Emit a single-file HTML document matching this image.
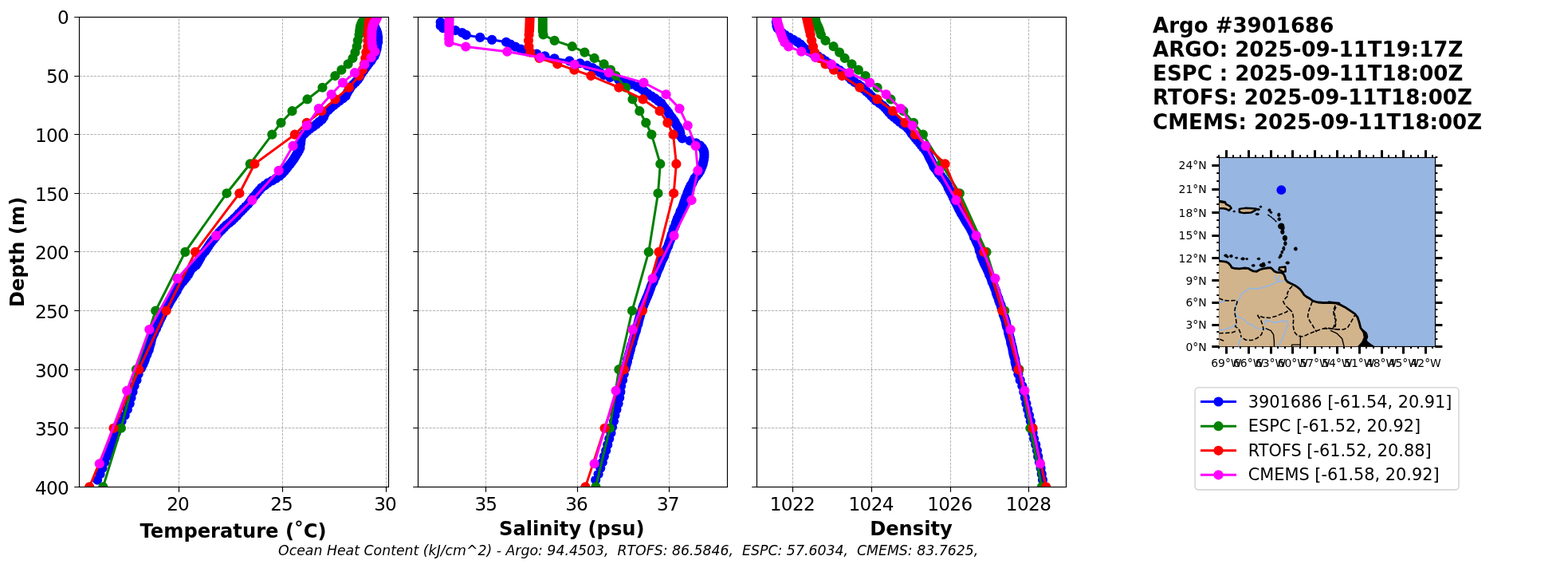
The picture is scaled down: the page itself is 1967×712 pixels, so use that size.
<!DOCTYPE html>
<html lang="en">
<head>
<meta charset="utf-8">
<title>Argo #3901686 profile comparison</title>
<style>
html,body{margin:0;padding:0;background:#ffffff;}
body{width:1967px;height:712px;overflow:hidden;}
svg{display:block;}
</style>
</head>
<body>
<svg width="1967" height="712" viewBox="0 0 1967 712" font-family='"DejaVu Sans", "Liberation Sans", sans-serif' role="img" aria-label="Argo float 3901686 profile comparison">
<rect width="1967" height="712" fill="#ffffff"/>
<defs>
<clipPath id="c0"><rect x="99.4" y="21.4" width="388.1" height="589"/></clipPath>
<clipPath id="c1"><rect x="524.7" y="21.4" width="388" height="589"/></clipPath>
<clipPath id="c2"><rect x="949.8" y="21.4" width="387.9" height="589"/></clipPath>
</defs>
<g>
<path d="M224.5 610.5V21.5M354.5 610.5V21.5M484.5 610.5V21.5M99.5 95.5H487.5M99.5 168.5H487.5M99.5 242.5H487.5M99.5 315.5H487.5M99.5 389.5H487.5M99.5 463.5H487.5M99.5 536.5H487.5" fill="none" stroke="#a7a7a7" stroke-width="0.87" stroke-dasharray="3.21 1.39"/>
<g clip-path="url(#c0)">
<polyline points="469.31,27.73 469.49,29.2 469.71,32.15 470.81,35.09 472.27,38.04 473.29,40.98 473.76,43.93 474.22,46.87 474.13,49.82 474.18,52.76 473.31,55.71 472.97,58.65 472.55,61.6 471.69,64.54 470.77,67.49 469.55,70.43 467.12,73.38 465.35,76.32 462.88,79.27 460.64,82.21 458.33,85.16 456.49,88.1 454.29,91.05 452.37,93.99 450.86,96.94 448.81,99.88 446.19,102.83 443.21,105.77 440.22,108.72 438.5,111.66 436.57,114.61 434.95,117.55 433.66,120.5 430.12,123.44 425.96,126.39 421.96,129.33 418.5,132.28 414.74,135.22 411.66,138.17 408.62,141.11 407.04,144.06 405.93,147 403.81,149.95 400.25,152.89 396.77,155.84 392.93,158.78 388.69,161.73 384.96,164.67 381.84,167.62 378.84,170.56 377.84,173.51 377.38,176.45 377.14,179.4 376.54,182.34 376.44,185.29 375.12,188.23 373.53,191.18 371.79,194.12 369.98,197.07 368.19,200.01 365.97,202.96 363.8,205.9 361.26,208.85 359.12,211.79 356.7,214.74 353.85,217.68 350.71,220.63 346.24,223.57 341.39,226.52 336,229.46 332.15,232.41 328,235.35 325.45,238.3 322.87,241.24 320.55,244.19 317.91,247.13 315.59,250.08 313.44,253.02 311.19,255.97 308.22,258.91 305.31,261.86 302.64,264.8 299.51,267.75 297.04,270.69 293.92,273.64 290.87,276.58 287.46,279.53 283.65,282.47 280.86,285.42 277.91,288.36 275,291.31 272.45,294.25 270.27,297.2 267.83,300.14 265.41,303.09 263.29,306.03 261.36,308.98 259.45,311.92 257.37,314.87 254.78,317.81 252.6,320.76 251.18,323.7 249.48,326.65 247.8,329.59 245.93,332.54 242.09,335.48 239.12,338.43 237.6,341.37 236.1,344.32 234.05,347.26 231.52,350.21 229.16,353.15 226.67,356.1 224.82,359.04 223,361.99 221.73,364.93 219.81,367.88 217.75,370.82 216.15,373.77 214.16,376.71 212.46,379.66 210.98,382.6 209.14,385.55 207.27,388.49 205.38,391.44 203.85,394.38 202.5,397.33 201.01,400.27 199.62,403.22 198.43,406.16 196.97,409.11 196.02,412.05 194.29,415 193.16,417.94 191.6,420.89 190.49,423.83 189.69,426.78 189.16,429.72 188.18,432.67 187.37,435.61 186.75,438.56 185.2,441.5 184.27,444.45 182.73,447.39 181.89,450.34 180.81,453.28 179.57,456.23 177.92,459.17 176.93,461.68 173.61,469.04 171.45,476.4 168.56,483.76 166.49,491.13 164.47,498.49 162.71,505.85 159.86,513.22 156.65,520.58 152.63,527.94 148.82,535.3 145.84,542.66 143.25,550.03 140.32,557.39 137.21,564.75 134.16,572.11 131.1,579.48 128.45,586.84 125.56,594.2 122.14,601.56" fill="none" stroke="#0000ff" stroke-width="3" stroke-linejoin="round" stroke-linecap="butt"/>
<path d="M463.21 27.73a6.1 6.1 0 1 0 12.2 0a6.1 6.1 0 1 0 -12.2 0zM463.39 29.2a6.1 6.1 0 1 0 12.2 0a6.1 6.1 0 1 0 -12.2 0zM463.61 32.15a6.1 6.1 0 1 0 12.2 0a6.1 6.1 0 1 0 -12.2 0zM464.71 35.09a6.1 6.1 0 1 0 12.2 0a6.1 6.1 0 1 0 -12.2 0zM466.17 38.04a6.1 6.1 0 1 0 12.2 0a6.1 6.1 0 1 0 -12.2 0zM467.19 40.98a6.1 6.1 0 1 0 12.2 0a6.1 6.1 0 1 0 -12.2 0zM467.66 43.93a6.1 6.1 0 1 0 12.2 0a6.1 6.1 0 1 0 -12.2 0zM468.12 46.87a6.1 6.1 0 1 0 12.2 0a6.1 6.1 0 1 0 -12.2 0zM468.03 49.82a6.1 6.1 0 1 0 12.2 0a6.1 6.1 0 1 0 -12.2 0zM468.08 52.76a6.1 6.1 0 1 0 12.2 0a6.1 6.1 0 1 0 -12.2 0zM467.21 55.71a6.1 6.1 0 1 0 12.2 0a6.1 6.1 0 1 0 -12.2 0zM466.87 58.65a6.1 6.1 0 1 0 12.2 0a6.1 6.1 0 1 0 -12.2 0zM466.45 61.6a6.1 6.1 0 1 0 12.2 0a6.1 6.1 0 1 0 -12.2 0zM465.59 64.54a6.1 6.1 0 1 0 12.2 0a6.1 6.1 0 1 0 -12.2 0zM464.67 67.49a6.1 6.1 0 1 0 12.2 0a6.1 6.1 0 1 0 -12.2 0zM463.45 70.43a6.1 6.1 0 1 0 12.2 0a6.1 6.1 0 1 0 -12.2 0zM461.02 73.38a6.1 6.1 0 1 0 12.2 0a6.1 6.1 0 1 0 -12.2 0zM459.25 76.32a6.1 6.1 0 1 0 12.2 0a6.1 6.1 0 1 0 -12.2 0zM456.78 79.27a6.1 6.1 0 1 0 12.2 0a6.1 6.1 0 1 0 -12.2 0zM454.54 82.21a6.1 6.1 0 1 0 12.2 0a6.1 6.1 0 1 0 -12.2 0zM452.23 85.16a6.1 6.1 0 1 0 12.2 0a6.1 6.1 0 1 0 -12.2 0zM450.39 88.1a6.1 6.1 0 1 0 12.2 0a6.1 6.1 0 1 0 -12.2 0zM448.19 91.05a6.1 6.1 0 1 0 12.2 0a6.1 6.1 0 1 0 -12.2 0zM446.27 93.99a6.1 6.1 0 1 0 12.2 0a6.1 6.1 0 1 0 -12.2 0zM444.76 96.94a6.1 6.1 0 1 0 12.2 0a6.1 6.1 0 1 0 -12.2 0zM442.71 99.88a6.1 6.1 0 1 0 12.2 0a6.1 6.1 0 1 0 -12.2 0zM440.09 102.83a6.1 6.1 0 1 0 12.2 0a6.1 6.1 0 1 0 -12.2 0zM437.11 105.77a6.1 6.1 0 1 0 12.2 0a6.1 6.1 0 1 0 -12.2 0zM434.12 108.72a6.1 6.1 0 1 0 12.2 0a6.1 6.1 0 1 0 -12.2 0zM432.4 111.66a6.1 6.1 0 1 0 12.2 0a6.1 6.1 0 1 0 -12.2 0zM430.47 114.61a6.1 6.1 0 1 0 12.2 0a6.1 6.1 0 1 0 -12.2 0zM428.85 117.55a6.1 6.1 0 1 0 12.2 0a6.1 6.1 0 1 0 -12.2 0zM427.56 120.5a6.1 6.1 0 1 0 12.2 0a6.1 6.1 0 1 0 -12.2 0zM424.02 123.44a6.1 6.1 0 1 0 12.2 0a6.1 6.1 0 1 0 -12.2 0zM419.86 126.39a6.1 6.1 0 1 0 12.2 0a6.1 6.1 0 1 0 -12.2 0zM415.86 129.33a6.1 6.1 0 1 0 12.2 0a6.1 6.1 0 1 0 -12.2 0zM412.4 132.28a6.1 6.1 0 1 0 12.2 0a6.1 6.1 0 1 0 -12.2 0zM408.64 135.22a6.1 6.1 0 1 0 12.2 0a6.1 6.1 0 1 0 -12.2 0zM405.56 138.17a6.1 6.1 0 1 0 12.2 0a6.1 6.1 0 1 0 -12.2 0zM402.52 141.11a6.1 6.1 0 1 0 12.2 0a6.1 6.1 0 1 0 -12.2 0zM400.94 144.06a6.1 6.1 0 1 0 12.2 0a6.1 6.1 0 1 0 -12.2 0zM399.83 147a6.1 6.1 0 1 0 12.2 0a6.1 6.1 0 1 0 -12.2 0zM397.71 149.95a6.1 6.1 0 1 0 12.2 0a6.1 6.1 0 1 0 -12.2 0zM394.15 152.89a6.1 6.1 0 1 0 12.2 0a6.1 6.1 0 1 0 -12.2 0zM390.67 155.84a6.1 6.1 0 1 0 12.2 0a6.1 6.1 0 1 0 -12.2 0zM386.83 158.78a6.1 6.1 0 1 0 12.2 0a6.1 6.1 0 1 0 -12.2 0zM382.59 161.73a6.1 6.1 0 1 0 12.2 0a6.1 6.1 0 1 0 -12.2 0zM378.86 164.67a6.1 6.1 0 1 0 12.2 0a6.1 6.1 0 1 0 -12.2 0zM375.74 167.62a6.1 6.1 0 1 0 12.2 0a6.1 6.1 0 1 0 -12.2 0zM372.74 170.56a6.1 6.1 0 1 0 12.2 0a6.1 6.1 0 1 0 -12.2 0zM371.74 173.51a6.1 6.1 0 1 0 12.2 0a6.1 6.1 0 1 0 -12.2 0zM371.28 176.45a6.1 6.1 0 1 0 12.2 0a6.1 6.1 0 1 0 -12.2 0zM371.04 179.4a6.1 6.1 0 1 0 12.2 0a6.1 6.1 0 1 0 -12.2 0zM370.44 182.34a6.1 6.1 0 1 0 12.2 0a6.1 6.1 0 1 0 -12.2 0zM370.34 185.29a6.1 6.1 0 1 0 12.2 0a6.1 6.1 0 1 0 -12.2 0zM369.02 188.23a6.1 6.1 0 1 0 12.2 0a6.1 6.1 0 1 0 -12.2 0zM367.43 191.18a6.1 6.1 0 1 0 12.2 0a6.1 6.1 0 1 0 -12.2 0zM365.69 194.12a6.1 6.1 0 1 0 12.2 0a6.1 6.1 0 1 0 -12.2 0zM363.88 197.07a6.1 6.1 0 1 0 12.2 0a6.1 6.1 0 1 0 -12.2 0zM362.09 200.01a6.1 6.1 0 1 0 12.2 0a6.1 6.1 0 1 0 -12.2 0zM359.87 202.96a6.1 6.1 0 1 0 12.2 0a6.1 6.1 0 1 0 -12.2 0zM357.7 205.9a6.1 6.1 0 1 0 12.2 0a6.1 6.1 0 1 0 -12.2 0zM355.16 208.85a6.1 6.1 0 1 0 12.2 0a6.1 6.1 0 1 0 -12.2 0zM353.02 211.79a6.1 6.1 0 1 0 12.2 0a6.1 6.1 0 1 0 -12.2 0zM350.6 214.74a6.1 6.1 0 1 0 12.2 0a6.1 6.1 0 1 0 -12.2 0zM347.75 217.68a6.1 6.1 0 1 0 12.2 0a6.1 6.1 0 1 0 -12.2 0zM344.61 220.63a6.1 6.1 0 1 0 12.2 0a6.1 6.1 0 1 0 -12.2 0zM340.14 223.57a6.1 6.1 0 1 0 12.2 0a6.1 6.1 0 1 0 -12.2 0zM335.29 226.52a6.1 6.1 0 1 0 12.2 0a6.1 6.1 0 1 0 -12.2 0zM329.9 229.46a6.1 6.1 0 1 0 12.2 0a6.1 6.1 0 1 0 -12.2 0zM326.05 232.41a6.1 6.1 0 1 0 12.2 0a6.1 6.1 0 1 0 -12.2 0zM321.9 235.35a6.1 6.1 0 1 0 12.2 0a6.1 6.1 0 1 0 -12.2 0zM319.35 238.3a6.1 6.1 0 1 0 12.2 0a6.1 6.1 0 1 0 -12.2 0zM316.77 241.24a6.1 6.1 0 1 0 12.2 0a6.1 6.1 0 1 0 -12.2 0zM314.45 244.19a6.1 6.1 0 1 0 12.2 0a6.1 6.1 0 1 0 -12.2 0zM311.81 247.13a6.1 6.1 0 1 0 12.2 0a6.1 6.1 0 1 0 -12.2 0zM309.49 250.08a6.1 6.1 0 1 0 12.2 0a6.1 6.1 0 1 0 -12.2 0zM307.34 253.02a6.1 6.1 0 1 0 12.2 0a6.1 6.1 0 1 0 -12.2 0zM305.09 255.97a6.1 6.1 0 1 0 12.2 0a6.1 6.1 0 1 0 -12.2 0zM302.12 258.91a6.1 6.1 0 1 0 12.2 0a6.1 6.1 0 1 0 -12.2 0zM299.21 261.86a6.1 6.1 0 1 0 12.2 0a6.1 6.1 0 1 0 -12.2 0zM296.54 264.8a6.1 6.1 0 1 0 12.2 0a6.1 6.1 0 1 0 -12.2 0zM293.41 267.75a6.1 6.1 0 1 0 12.2 0a6.1 6.1 0 1 0 -12.2 0zM290.94 270.69a6.1 6.1 0 1 0 12.2 0a6.1 6.1 0 1 0 -12.2 0zM287.82 273.64a6.1 6.1 0 1 0 12.2 0a6.1 6.1 0 1 0 -12.2 0zM284.77 276.58a6.1 6.1 0 1 0 12.2 0a6.1 6.1 0 1 0 -12.2 0zM281.36 279.53a6.1 6.1 0 1 0 12.2 0a6.1 6.1 0 1 0 -12.2 0zM277.55 282.47a6.1 6.1 0 1 0 12.2 0a6.1 6.1 0 1 0 -12.2 0zM274.76 285.42a6.1 6.1 0 1 0 12.2 0a6.1 6.1 0 1 0 -12.2 0zM271.81 288.36a6.1 6.1 0 1 0 12.2 0a6.1 6.1 0 1 0 -12.2 0zM268.9 291.31a6.1 6.1 0 1 0 12.2 0a6.1 6.1 0 1 0 -12.2 0zM266.35 294.25a6.1 6.1 0 1 0 12.2 0a6.1 6.1 0 1 0 -12.2 0zM264.17 297.2a6.1 6.1 0 1 0 12.2 0a6.1 6.1 0 1 0 -12.2 0zM261.73 300.14a6.1 6.1 0 1 0 12.2 0a6.1 6.1 0 1 0 -12.2 0zM259.31 303.09a6.1 6.1 0 1 0 12.2 0a6.1 6.1 0 1 0 -12.2 0zM257.19 306.03a6.1 6.1 0 1 0 12.2 0a6.1 6.1 0 1 0 -12.2 0zM255.26 308.98a6.1 6.1 0 1 0 12.2 0a6.1 6.1 0 1 0 -12.2 0zM253.35 311.92a6.1 6.1 0 1 0 12.2 0a6.1 6.1 0 1 0 -12.2 0zM251.27 314.87a6.1 6.1 0 1 0 12.2 0a6.1 6.1 0 1 0 -12.2 0zM248.68 317.81a6.1 6.1 0 1 0 12.2 0a6.1 6.1 0 1 0 -12.2 0zM246.5 320.76a6.1 6.1 0 1 0 12.2 0a6.1 6.1 0 1 0 -12.2 0zM245.08 323.7a6.1 6.1 0 1 0 12.2 0a6.1 6.1 0 1 0 -12.2 0zM243.38 326.65a6.1 6.1 0 1 0 12.2 0a6.1 6.1 0 1 0 -12.2 0zM241.7 329.59a6.1 6.1 0 1 0 12.2 0a6.1 6.1 0 1 0 -12.2 0zM239.83 332.54a6.1 6.1 0 1 0 12.2 0a6.1 6.1 0 1 0 -12.2 0zM235.99 335.48a6.1 6.1 0 1 0 12.2 0a6.1 6.1 0 1 0 -12.2 0zM233.02 338.43a6.1 6.1 0 1 0 12.2 0a6.1 6.1 0 1 0 -12.2 0zM231.5 341.37a6.1 6.1 0 1 0 12.2 0a6.1 6.1 0 1 0 -12.2 0zM230 344.32a6.1 6.1 0 1 0 12.2 0a6.1 6.1 0 1 0 -12.2 0zM227.95 347.26a6.1 6.1 0 1 0 12.2 0a6.1 6.1 0 1 0 -12.2 0zM225.42 350.21a6.1 6.1 0 1 0 12.2 0a6.1 6.1 0 1 0 -12.2 0zM223.06 353.15a6.1 6.1 0 1 0 12.2 0a6.1 6.1 0 1 0 -12.2 0zM220.57 356.1a6.1 6.1 0 1 0 12.2 0a6.1 6.1 0 1 0 -12.2 0zM218.72 359.04a6.1 6.1 0 1 0 12.2 0a6.1 6.1 0 1 0 -12.2 0zM216.9 361.99a6.1 6.1 0 1 0 12.2 0a6.1 6.1 0 1 0 -12.2 0zM215.63 364.93a6.1 6.1 0 1 0 12.2 0a6.1 6.1 0 1 0 -12.2 0zM213.71 367.88a6.1 6.1 0 1 0 12.2 0a6.1 6.1 0 1 0 -12.2 0zM211.65 370.82a6.1 6.1 0 1 0 12.2 0a6.1 6.1 0 1 0 -12.2 0zM210.05 373.77a6.1 6.1 0 1 0 12.2 0a6.1 6.1 0 1 0 -12.2 0zM208.06 376.71a6.1 6.1 0 1 0 12.2 0a6.1 6.1 0 1 0 -12.2 0zM206.36 379.66a6.1 6.1 0 1 0 12.2 0a6.1 6.1 0 1 0 -12.2 0zM204.88 382.6a6.1 6.1 0 1 0 12.2 0a6.1 6.1 0 1 0 -12.2 0zM203.04 385.55a6.1 6.1 0 1 0 12.2 0a6.1 6.1 0 1 0 -12.2 0zM201.17 388.49a6.1 6.1 0 1 0 12.2 0a6.1 6.1 0 1 0 -12.2 0zM199.28 391.44a6.1 6.1 0 1 0 12.2 0a6.1 6.1 0 1 0 -12.2 0zM197.75 394.38a6.1 6.1 0 1 0 12.2 0a6.1 6.1 0 1 0 -12.2 0zM196.4 397.33a6.1 6.1 0 1 0 12.2 0a6.1 6.1 0 1 0 -12.2 0zM194.91 400.27a6.1 6.1 0 1 0 12.2 0a6.1 6.1 0 1 0 -12.2 0zM193.52 403.22a6.1 6.1 0 1 0 12.2 0a6.1 6.1 0 1 0 -12.2 0zM192.33 406.16a6.1 6.1 0 1 0 12.2 0a6.1 6.1 0 1 0 -12.2 0zM190.87 409.11a6.1 6.1 0 1 0 12.2 0a6.1 6.1 0 1 0 -12.2 0zM189.92 412.05a6.1 6.1 0 1 0 12.2 0a6.1 6.1 0 1 0 -12.2 0zM188.19 415a6.1 6.1 0 1 0 12.2 0a6.1 6.1 0 1 0 -12.2 0zM187.06 417.94a6.1 6.1 0 1 0 12.2 0a6.1 6.1 0 1 0 -12.2 0zM185.5 420.89a6.1 6.1 0 1 0 12.2 0a6.1 6.1 0 1 0 -12.2 0zM184.39 423.83a6.1 6.1 0 1 0 12.2 0a6.1 6.1 0 1 0 -12.2 0zM183.59 426.78a6.1 6.1 0 1 0 12.2 0a6.1 6.1 0 1 0 -12.2 0zM183.06 429.72a6.1 6.1 0 1 0 12.2 0a6.1 6.1 0 1 0 -12.2 0zM182.08 432.67a6.1 6.1 0 1 0 12.2 0a6.1 6.1 0 1 0 -12.2 0zM181.27 435.61a6.1 6.1 0 1 0 12.2 0a6.1 6.1 0 1 0 -12.2 0zM180.65 438.56a6.1 6.1 0 1 0 12.2 0a6.1 6.1 0 1 0 -12.2 0zM179.1 441.5a6.1 6.1 0 1 0 12.2 0a6.1 6.1 0 1 0 -12.2 0zM178.17 444.45a6.1 6.1 0 1 0 12.2 0a6.1 6.1 0 1 0 -12.2 0zM176.63 447.39a6.1 6.1 0 1 0 12.2 0a6.1 6.1 0 1 0 -12.2 0zM175.79 450.34a6.1 6.1 0 1 0 12.2 0a6.1 6.1 0 1 0 -12.2 0zM174.71 453.28a6.1 6.1 0 1 0 12.2 0a6.1 6.1 0 1 0 -12.2 0zM173.47 456.23a6.1 6.1 0 1 0 12.2 0a6.1 6.1 0 1 0 -12.2 0zM171.82 459.17a6.1 6.1 0 1 0 12.2 0a6.1 6.1 0 1 0 -12.2 0zM170.83 461.68a6.1 6.1 0 1 0 12.2 0a6.1 6.1 0 1 0 -12.2 0zM167.51 469.04a6.1 6.1 0 1 0 12.2 0a6.1 6.1 0 1 0 -12.2 0zM165.35 476.4a6.1 6.1 0 1 0 12.2 0a6.1 6.1 0 1 0 -12.2 0zM162.46 483.76a6.1 6.1 0 1 0 12.2 0a6.1 6.1 0 1 0 -12.2 0zM160.39 491.13a6.1 6.1 0 1 0 12.2 0a6.1 6.1 0 1 0 -12.2 0zM158.37 498.49a6.1 6.1 0 1 0 12.2 0a6.1 6.1 0 1 0 -12.2 0zM156.61 505.85a6.1 6.1 0 1 0 12.2 0a6.1 6.1 0 1 0 -12.2 0zM153.76 513.22a6.1 6.1 0 1 0 12.2 0a6.1 6.1 0 1 0 -12.2 0zM150.55 520.58a6.1 6.1 0 1 0 12.2 0a6.1 6.1 0 1 0 -12.2 0zM146.53 527.94a6.1 6.1 0 1 0 12.2 0a6.1 6.1 0 1 0 -12.2 0zM142.72 535.3a6.1 6.1 0 1 0 12.2 0a6.1 6.1 0 1 0 -12.2 0zM139.74 542.66a6.1 6.1 0 1 0 12.2 0a6.1 6.1 0 1 0 -12.2 0zM137.15 550.03a6.1 6.1 0 1 0 12.2 0a6.1 6.1 0 1 0 -12.2 0zM134.22 557.39a6.1 6.1 0 1 0 12.2 0a6.1 6.1 0 1 0 -12.2 0zM131.11 564.75a6.1 6.1 0 1 0 12.2 0a6.1 6.1 0 1 0 -12.2 0zM128.06 572.11a6.1 6.1 0 1 0 12.2 0a6.1 6.1 0 1 0 -12.2 0zM125 579.48a6.1 6.1 0 1 0 12.2 0a6.1 6.1 0 1 0 -12.2 0zM122.35 586.84a6.1 6.1 0 1 0 12.2 0a6.1 6.1 0 1 0 -12.2 0zM119.46 594.2a6.1 6.1 0 1 0 12.2 0a6.1 6.1 0 1 0 -12.2 0zM116.04 601.56a6.1 6.1 0 1 0 12.2 0a6.1 6.1 0 1 0 -12.2 0z" fill="#0000ff"/>
<polyline points="459,21.4 456.6,24.34 454.3,27.29 453,30.23 452,33.18 451.57,36.12 451.14,39.07 450.5,43.49 448.8,50.85 447.6,58.21 445.5,65.57 442.5,72.94 436.6,80.3 428.4,87.66 420.4,95.03 404.5,109.75 385.5,124.47 366.5,139.2 352.5,153.93 341.3,168.65 313.7,205.46 284.4,242.28 232.3,315.9 195.2,389.52 171,463.15 151.9,536.77 129.3,610.4" fill="none" stroke="#008000" stroke-width="3" stroke-linejoin="round" stroke-linecap="butt"/>
<path d="M452.9 21.4a6.1 6.1 0 1 0 12.2 0a6.1 6.1 0 1 0 -12.2 0zM450.5 24.34a6.1 6.1 0 1 0 12.2 0a6.1 6.1 0 1 0 -12.2 0zM448.2 27.29a6.1 6.1 0 1 0 12.2 0a6.1 6.1 0 1 0 -12.2 0zM446.9 30.23a6.1 6.1 0 1 0 12.2 0a6.1 6.1 0 1 0 -12.2 0zM445.9 33.18a6.1 6.1 0 1 0 12.2 0a6.1 6.1 0 1 0 -12.2 0zM445.47 36.12a6.1 6.1 0 1 0 12.2 0a6.1 6.1 0 1 0 -12.2 0zM445.04 39.07a6.1 6.1 0 1 0 12.2 0a6.1 6.1 0 1 0 -12.2 0zM444.4 43.49a6.1 6.1 0 1 0 12.2 0a6.1 6.1 0 1 0 -12.2 0zM442.7 50.85a6.1 6.1 0 1 0 12.2 0a6.1 6.1 0 1 0 -12.2 0zM441.5 58.21a6.1 6.1 0 1 0 12.2 0a6.1 6.1 0 1 0 -12.2 0zM439.4 65.57a6.1 6.1 0 1 0 12.2 0a6.1 6.1 0 1 0 -12.2 0zM436.4 72.94a6.1 6.1 0 1 0 12.2 0a6.1 6.1 0 1 0 -12.2 0zM430.5 80.3a6.1 6.1 0 1 0 12.2 0a6.1 6.1 0 1 0 -12.2 0zM422.3 87.66a6.1 6.1 0 1 0 12.2 0a6.1 6.1 0 1 0 -12.2 0zM414.3 95.03a6.1 6.1 0 1 0 12.2 0a6.1 6.1 0 1 0 -12.2 0zM398.4 109.75a6.1 6.1 0 1 0 12.2 0a6.1 6.1 0 1 0 -12.2 0zM379.4 124.47a6.1 6.1 0 1 0 12.2 0a6.1 6.1 0 1 0 -12.2 0zM360.4 139.2a6.1 6.1 0 1 0 12.2 0a6.1 6.1 0 1 0 -12.2 0zM346.4 153.93a6.1 6.1 0 1 0 12.2 0a6.1 6.1 0 1 0 -12.2 0zM335.2 168.65a6.1 6.1 0 1 0 12.2 0a6.1 6.1 0 1 0 -12.2 0zM307.6 205.46a6.1 6.1 0 1 0 12.2 0a6.1 6.1 0 1 0 -12.2 0zM278.3 242.28a6.1 6.1 0 1 0 12.2 0a6.1 6.1 0 1 0 -12.2 0zM226.2 315.9a6.1 6.1 0 1 0 12.2 0a6.1 6.1 0 1 0 -12.2 0zM189.1 389.52a6.1 6.1 0 1 0 12.2 0a6.1 6.1 0 1 0 -12.2 0zM164.9 463.15a6.1 6.1 0 1 0 12.2 0a6.1 6.1 0 1 0 -12.2 0zM145.8 536.77a6.1 6.1 0 1 0 12.2 0a6.1 6.1 0 1 0 -12.2 0zM123.2 610.4a6.1 6.1 0 1 0 12.2 0a6.1 6.1 0 1 0 -12.2 0z" fill="#008000"/>
<polyline points="464.9,21.4 463.95,24.34 463,27.29 462.75,30.23 462.5,33.18 462.19,36.12 461.87,39.07 461.4,43.49 461.3,50.85 461.2,58.21 459.3,65.57 458.3,72.94 456.9,80.3 454.8,87.66 450.6,95.03 437.8,109.75 420.6,124.47 403.5,139.2 384.8,153.93 369.8,168.65 319.4,205.46 300.4,242.28 245,315.9 208.6,389.52 174.2,463.15 142.5,536.77 112.2,610.4" fill="none" stroke="#ff0000" stroke-width="3" stroke-linejoin="round" stroke-linecap="butt"/>
<path d="M458.8 21.4a6.1 6.1 0 1 0 12.2 0a6.1 6.1 0 1 0 -12.2 0zM457.85 24.34a6.1 6.1 0 1 0 12.2 0a6.1 6.1 0 1 0 -12.2 0zM456.9 27.29a6.1 6.1 0 1 0 12.2 0a6.1 6.1 0 1 0 -12.2 0zM456.65 30.23a6.1 6.1 0 1 0 12.2 0a6.1 6.1 0 1 0 -12.2 0zM456.4 33.18a6.1 6.1 0 1 0 12.2 0a6.1 6.1 0 1 0 -12.2 0zM456.09 36.12a6.1 6.1 0 1 0 12.2 0a6.1 6.1 0 1 0 -12.2 0zM455.77 39.07a6.1 6.1 0 1 0 12.2 0a6.1 6.1 0 1 0 -12.2 0zM455.3 43.49a6.1 6.1 0 1 0 12.2 0a6.1 6.1 0 1 0 -12.2 0zM455.2 50.85a6.1 6.1 0 1 0 12.2 0a6.1 6.1 0 1 0 -12.2 0zM455.1 58.21a6.1 6.1 0 1 0 12.2 0a6.1 6.1 0 1 0 -12.2 0zM453.2 65.57a6.1 6.1 0 1 0 12.2 0a6.1 6.1 0 1 0 -12.2 0zM452.2 72.94a6.1 6.1 0 1 0 12.2 0a6.1 6.1 0 1 0 -12.2 0zM450.8 80.3a6.1 6.1 0 1 0 12.2 0a6.1 6.1 0 1 0 -12.2 0zM448.7 87.66a6.1 6.1 0 1 0 12.2 0a6.1 6.1 0 1 0 -12.2 0zM444.5 95.03a6.1 6.1 0 1 0 12.2 0a6.1 6.1 0 1 0 -12.2 0zM431.7 109.75a6.1 6.1 0 1 0 12.2 0a6.1 6.1 0 1 0 -12.2 0zM414.5 124.47a6.1 6.1 0 1 0 12.2 0a6.1 6.1 0 1 0 -12.2 0zM397.4 139.2a6.1 6.1 0 1 0 12.2 0a6.1 6.1 0 1 0 -12.2 0zM378.7 153.93a6.1 6.1 0 1 0 12.2 0a6.1 6.1 0 1 0 -12.2 0zM363.7 168.65a6.1 6.1 0 1 0 12.2 0a6.1 6.1 0 1 0 -12.2 0zM313.3 205.46a6.1 6.1 0 1 0 12.2 0a6.1 6.1 0 1 0 -12.2 0zM294.3 242.28a6.1 6.1 0 1 0 12.2 0a6.1 6.1 0 1 0 -12.2 0zM238.9 315.9a6.1 6.1 0 1 0 12.2 0a6.1 6.1 0 1 0 -12.2 0zM202.5 389.52a6.1 6.1 0 1 0 12.2 0a6.1 6.1 0 1 0 -12.2 0zM168.1 463.15a6.1 6.1 0 1 0 12.2 0a6.1 6.1 0 1 0 -12.2 0zM136.4 536.77a6.1 6.1 0 1 0 12.2 0a6.1 6.1 0 1 0 -12.2 0zM106.1 610.4a6.1 6.1 0 1 0 12.2 0a6.1 6.1 0 1 0 -12.2 0z" fill="#ff0000"/>
<polyline points="473,22.12 472.27,23.67 471.5,25.3 470.3,27.02 469,28.88 468.28,30.88 467.5,33.08 467.03,35.49 466.5,38.19 466.44,41.23 466.38,44.68 466.3,48.64 466.5,53.21 467.2,58.51 470.3,64.69 465.7,72.05 457.4,80.74 445,91.2 429.9,103.57 415.7,118.29 399.8,136.11 384.8,157.31 367.5,182.93 349.6,213.86 316.3,250.96 271,295.43 222.5,349.03 187.3,413.08 159.2,489.8 124.8,581.24" fill="none" stroke="#ff00ff" stroke-width="3" stroke-linejoin="round" stroke-linecap="butt"/>
<path d="M466.9 22.12a6.1 6.1 0 1 0 12.2 0a6.1 6.1 0 1 0 -12.2 0zM466.17 23.67a6.1 6.1 0 1 0 12.2 0a6.1 6.1 0 1 0 -12.2 0zM465.4 25.3a6.1 6.1 0 1 0 12.2 0a6.1 6.1 0 1 0 -12.2 0zM464.2 27.02a6.1 6.1 0 1 0 12.2 0a6.1 6.1 0 1 0 -12.2 0zM462.9 28.88a6.1 6.1 0 1 0 12.2 0a6.1 6.1 0 1 0 -12.2 0zM462.18 30.88a6.1 6.1 0 1 0 12.2 0a6.1 6.1 0 1 0 -12.2 0zM461.4 33.08a6.1 6.1 0 1 0 12.2 0a6.1 6.1 0 1 0 -12.2 0zM460.93 35.49a6.1 6.1 0 1 0 12.2 0a6.1 6.1 0 1 0 -12.2 0zM460.4 38.19a6.1 6.1 0 1 0 12.2 0a6.1 6.1 0 1 0 -12.2 0zM460.34 41.23a6.1 6.1 0 1 0 12.2 0a6.1 6.1 0 1 0 -12.2 0zM460.28 44.68a6.1 6.1 0 1 0 12.2 0a6.1 6.1 0 1 0 -12.2 0zM460.2 48.64a6.1 6.1 0 1 0 12.2 0a6.1 6.1 0 1 0 -12.2 0zM460.4 53.21a6.1 6.1 0 1 0 12.2 0a6.1 6.1 0 1 0 -12.2 0zM461.1 58.51a6.1 6.1 0 1 0 12.2 0a6.1 6.1 0 1 0 -12.2 0zM464.2 64.69a6.1 6.1 0 1 0 12.2 0a6.1 6.1 0 1 0 -12.2 0zM459.6 72.05a6.1 6.1 0 1 0 12.2 0a6.1 6.1 0 1 0 -12.2 0zM451.3 80.74a6.1 6.1 0 1 0 12.2 0a6.1 6.1 0 1 0 -12.2 0zM438.9 91.2a6.1 6.1 0 1 0 12.2 0a6.1 6.1 0 1 0 -12.2 0zM423.8 103.57a6.1 6.1 0 1 0 12.2 0a6.1 6.1 0 1 0 -12.2 0zM409.6 118.29a6.1 6.1 0 1 0 12.2 0a6.1 6.1 0 1 0 -12.2 0zM393.7 136.11a6.1 6.1 0 1 0 12.2 0a6.1 6.1 0 1 0 -12.2 0zM378.7 157.31a6.1 6.1 0 1 0 12.2 0a6.1 6.1 0 1 0 -12.2 0zM361.4 182.93a6.1 6.1 0 1 0 12.2 0a6.1 6.1 0 1 0 -12.2 0zM343.5 213.86a6.1 6.1 0 1 0 12.2 0a6.1 6.1 0 1 0 -12.2 0zM310.2 250.96a6.1 6.1 0 1 0 12.2 0a6.1 6.1 0 1 0 -12.2 0zM264.9 295.43a6.1 6.1 0 1 0 12.2 0a6.1 6.1 0 1 0 -12.2 0zM216.4 349.03a6.1 6.1 0 1 0 12.2 0a6.1 6.1 0 1 0 -12.2 0zM181.2 413.08a6.1 6.1 0 1 0 12.2 0a6.1 6.1 0 1 0 -12.2 0zM153.1 489.8a6.1 6.1 0 1 0 12.2 0a6.1 6.1 0 1 0 -12.2 0zM118.7 581.24a6.1 6.1 0 1 0 12.2 0a6.1 6.1 0 1 0 -12.2 0z" fill="#ff00ff"/>
</g>
<path d="M224.5 610.5v6.3M354.5 610.5v6.3M484.5 610.5v6.3M99.5 21.5h-6.3M99.5 95.5h-6.3M99.5 168.5h-6.3M99.5 242.5h-6.3M99.5 315.5h-6.3M99.5 389.5h-6.3M99.5 463.5h-6.3M99.5 536.5h-6.3M99.5 610.5h-6.3" fill="none" stroke="#000" stroke-width="1.16"/>
<rect x="99.5" y="21.5" width="388" height="589" fill="none" stroke="#000" stroke-width="1.16"/>
<g font-size="23.15" text-anchor="middle" fill="#000" letter-spacing="-1">
<text x="223.09" y="640.4">20</text>
<text x="353.09" y="640.4">25</text>
<text x="483.09" y="640.4">30</text>
</g>
<g font-size="23.15" text-anchor="end" fill="#000" letter-spacing="-0.7">
<text x="86.1" y="29.8">0</text>
<text x="86.1" y="104.43">50</text>
<text x="86.1" y="178.05">100</text>
<text x="86.1" y="251.68">150</text>
<text x="86.1" y="325.3">200</text>
<text x="86.1" y="398.92">250</text>
<text x="86.1" y="472.55">300</text>
<text x="86.1" y="546.17">350</text>
<text x="86.1" y="619.8">400</text>
</g>
</g>
<g>
<path d="M609.5 610.5V21.5M724.5 610.5V21.5M839.5 610.5V21.5M524.5 95.5H912.5M524.5 168.5H912.5M524.5 242.5H912.5M524.5 315.5H912.5M524.5 389.5H912.5M524.5 463.5H912.5M524.5 536.5H912.5" fill="none" stroke="#a7a7a7" stroke-width="0.87" stroke-dasharray="3.21 1.39"/>
<g clip-path="url(#c1)">
<polyline points="552.64,27.73 553.06,29.2 552.72,32.15 555.75,35.09 571.29,38.04 579.77,40.98 584.76,43.93 602.21,46.87 617.08,49.82 635.01,52.76 640.55,55.71 646.54,58.65 653.36,61.6 661.79,64.54 673.33,67.49 683.46,70.43 695.55,73.38 714.38,76.32 727.58,79.27 736.7,82.21 743.34,85.16 748.29,88.1 752.68,91.05 757.6,93.99 765.37,96.94 776.11,99.88 784.1,102.83 792.28,105.77 799.58,108.72 805.11,111.66 808.5,114.61 812.67,117.55 817.37,120.5 821.84,123.44 825.8,126.39 829.44,129.33 831.27,132.28 833.76,135.22 836.02,138.17 838.39,141.11 840.11,144.06 842.58,147 844.7,149.95 846.66,152.89 848.04,155.84 850.05,158.78 851.85,161.73 852.87,164.67 853.44,167.62 853.6,170.56 855.92,173.51 865.63,176.45 873.12,179.4 878.15,182.34 880.9,185.29 882.53,188.23 883.35,191.18 883.45,194.12 883.36,197.07 882.93,200.01 882.28,202.96 881.63,205.9 880.63,208.85 879.42,211.79 878.08,214.74 876.19,217.68 873.92,220.63 871.29,223.57 869.93,226.52 868.54,229.46 866.59,232.41 865.18,235.35 863.84,238.3 862.57,241.24 861.73,244.19 860.36,247.13 859.43,250.08 858.35,253.02 857.4,255.97 856.48,258.91 855.29,261.86 853.59,264.8 852.83,267.75 851.33,270.69 849.98,273.64 848.95,276.58 847.86,279.53 847.13,282.47 845.77,285.42 844.56,288.36 844.07,291.31 842.62,294.25 841.84,297.2 841.09,300.14 839.92,303.09 838.91,306.03 838,308.98 836.33,311.92 835.46,314.87 834.17,317.81 833.31,320.76 832,323.7 830.34,326.65 829.15,329.59 828.04,332.54 826.92,335.48 825.42,338.43 824.17,341.37 823.23,344.32 821.99,347.26 820.46,350.21 819.56,353.15 818.02,356.1 816.67,359.04 815.74,361.99 814.62,364.93 813.55,367.88 812.37,370.82 811.04,373.77 809.82,376.71 808.57,379.66 807.35,382.6 806.23,385.55 805.52,388.49 804.31,391.44 803.29,394.38 802.55,397.33 801.69,400.27 800.93,403.22 800.36,406.16 799.07,409.11 798.47,412.05 797.85,415 796.69,417.94 795.73,420.89 794.96,423.83 793.95,426.78 793.48,429.72 792.19,432.67 791.3,435.61 790.76,438.56 789.87,441.5 788.99,444.45 788.43,447.39 787.16,450.34 786.95,453.28 785.96,456.23 785.05,459.17 784.72,461.68 782.73,469.04 781.05,476.4 779.12,483.76 778.33,491.13 777.2,498.49 775.58,505.85 773.45,513.22 771.45,520.58 769.94,527.94 768.01,535.3 766.45,542.66 764.23,550.03 762.24,557.39 760.16,564.75 757.83,572.11 755.79,579.48 753.22,586.84 750.59,594.2 747.19,601.56" fill="none" stroke="#0000ff" stroke-width="3" stroke-linejoin="round" stroke-linecap="butt"/>
<path d="M546.54 27.73a6.1 6.1 0 1 0 12.2 0a6.1 6.1 0 1 0 -12.2 0zM546.96 29.2a6.1 6.1 0 1 0 12.2 0a6.1 6.1 0 1 0 -12.2 0zM546.62 32.15a6.1 6.1 0 1 0 12.2 0a6.1 6.1 0 1 0 -12.2 0zM549.65 35.09a6.1 6.1 0 1 0 12.2 0a6.1 6.1 0 1 0 -12.2 0zM565.19 38.04a6.1 6.1 0 1 0 12.2 0a6.1 6.1 0 1 0 -12.2 0zM573.67 40.98a6.1 6.1 0 1 0 12.2 0a6.1 6.1 0 1 0 -12.2 0zM578.66 43.93a6.1 6.1 0 1 0 12.2 0a6.1 6.1 0 1 0 -12.2 0zM596.11 46.87a6.1 6.1 0 1 0 12.2 0a6.1 6.1 0 1 0 -12.2 0zM610.98 49.82a6.1 6.1 0 1 0 12.2 0a6.1 6.1 0 1 0 -12.2 0zM628.91 52.76a6.1 6.1 0 1 0 12.2 0a6.1 6.1 0 1 0 -12.2 0zM634.45 55.71a6.1 6.1 0 1 0 12.2 0a6.1 6.1 0 1 0 -12.2 0zM640.44 58.65a6.1 6.1 0 1 0 12.2 0a6.1 6.1 0 1 0 -12.2 0zM647.26 61.6a6.1 6.1 0 1 0 12.2 0a6.1 6.1 0 1 0 -12.2 0zM655.69 64.54a6.1 6.1 0 1 0 12.2 0a6.1 6.1 0 1 0 -12.2 0zM667.23 67.49a6.1 6.1 0 1 0 12.2 0a6.1 6.1 0 1 0 -12.2 0zM677.36 70.43a6.1 6.1 0 1 0 12.2 0a6.1 6.1 0 1 0 -12.2 0zM689.45 73.38a6.1 6.1 0 1 0 12.2 0a6.1 6.1 0 1 0 -12.2 0zM708.28 76.32a6.1 6.1 0 1 0 12.2 0a6.1 6.1 0 1 0 -12.2 0zM721.48 79.27a6.1 6.1 0 1 0 12.2 0a6.1 6.1 0 1 0 -12.2 0zM730.6 82.21a6.1 6.1 0 1 0 12.2 0a6.1 6.1 0 1 0 -12.2 0zM737.24 85.16a6.1 6.1 0 1 0 12.2 0a6.1 6.1 0 1 0 -12.2 0zM742.19 88.1a6.1 6.1 0 1 0 12.2 0a6.1 6.1 0 1 0 -12.2 0zM746.58 91.05a6.1 6.1 0 1 0 12.2 0a6.1 6.1 0 1 0 -12.2 0zM751.5 93.99a6.1 6.1 0 1 0 12.2 0a6.1 6.1 0 1 0 -12.2 0zM759.27 96.94a6.1 6.1 0 1 0 12.2 0a6.1 6.1 0 1 0 -12.2 0zM770.01 99.88a6.1 6.1 0 1 0 12.2 0a6.1 6.1 0 1 0 -12.2 0zM778 102.83a6.1 6.1 0 1 0 12.2 0a6.1 6.1 0 1 0 -12.2 0zM786.18 105.77a6.1 6.1 0 1 0 12.2 0a6.1 6.1 0 1 0 -12.2 0zM793.48 108.72a6.1 6.1 0 1 0 12.2 0a6.1 6.1 0 1 0 -12.2 0zM799.01 111.66a6.1 6.1 0 1 0 12.2 0a6.1 6.1 0 1 0 -12.2 0zM802.4 114.61a6.1 6.1 0 1 0 12.2 0a6.1 6.1 0 1 0 -12.2 0zM806.57 117.55a6.1 6.1 0 1 0 12.2 0a6.1 6.1 0 1 0 -12.2 0zM811.27 120.5a6.1 6.1 0 1 0 12.2 0a6.1 6.1 0 1 0 -12.2 0zM815.74 123.44a6.1 6.1 0 1 0 12.2 0a6.1 6.1 0 1 0 -12.2 0zM819.7 126.39a6.1 6.1 0 1 0 12.2 0a6.1 6.1 0 1 0 -12.2 0zM823.34 129.33a6.1 6.1 0 1 0 12.2 0a6.1 6.1 0 1 0 -12.2 0zM825.17 132.28a6.1 6.1 0 1 0 12.2 0a6.1 6.1 0 1 0 -12.2 0zM827.66 135.22a6.1 6.1 0 1 0 12.2 0a6.1 6.1 0 1 0 -12.2 0zM829.92 138.17a6.1 6.1 0 1 0 12.2 0a6.1 6.1 0 1 0 -12.2 0zM832.29 141.11a6.1 6.1 0 1 0 12.2 0a6.1 6.1 0 1 0 -12.2 0zM834.01 144.06a6.1 6.1 0 1 0 12.2 0a6.1 6.1 0 1 0 -12.2 0zM836.48 147a6.1 6.1 0 1 0 12.2 0a6.1 6.1 0 1 0 -12.2 0zM838.6 149.95a6.1 6.1 0 1 0 12.2 0a6.1 6.1 0 1 0 -12.2 0zM840.56 152.89a6.1 6.1 0 1 0 12.2 0a6.1 6.1 0 1 0 -12.2 0zM841.94 155.84a6.1 6.1 0 1 0 12.2 0a6.1 6.1 0 1 0 -12.2 0zM843.95 158.78a6.1 6.1 0 1 0 12.2 0a6.1 6.1 0 1 0 -12.2 0zM845.75 161.73a6.1 6.1 0 1 0 12.2 0a6.1 6.1 0 1 0 -12.2 0zM846.77 164.67a6.1 6.1 0 1 0 12.2 0a6.1 6.1 0 1 0 -12.2 0zM847.34 167.62a6.1 6.1 0 1 0 12.2 0a6.1 6.1 0 1 0 -12.2 0zM847.5 170.56a6.1 6.1 0 1 0 12.2 0a6.1 6.1 0 1 0 -12.2 0zM849.82 173.51a6.1 6.1 0 1 0 12.2 0a6.1 6.1 0 1 0 -12.2 0zM859.53 176.45a6.1 6.1 0 1 0 12.2 0a6.1 6.1 0 1 0 -12.2 0zM867.02 179.4a6.1 6.1 0 1 0 12.2 0a6.1 6.1 0 1 0 -12.2 0zM872.05 182.34a6.1 6.1 0 1 0 12.2 0a6.1 6.1 0 1 0 -12.2 0zM874.8 185.29a6.1 6.1 0 1 0 12.2 0a6.1 6.1 0 1 0 -12.2 0zM876.43 188.23a6.1 6.1 0 1 0 12.2 0a6.1 6.1 0 1 0 -12.2 0zM877.25 191.18a6.1 6.1 0 1 0 12.2 0a6.1 6.1 0 1 0 -12.2 0zM877.35 194.12a6.1 6.1 0 1 0 12.2 0a6.1 6.1 0 1 0 -12.2 0zM877.26 197.07a6.1 6.1 0 1 0 12.2 0a6.1 6.1 0 1 0 -12.2 0zM876.83 200.01a6.1 6.1 0 1 0 12.2 0a6.1 6.1 0 1 0 -12.2 0zM876.18 202.96a6.1 6.1 0 1 0 12.2 0a6.1 6.1 0 1 0 -12.2 0zM875.53 205.9a6.1 6.1 0 1 0 12.2 0a6.1 6.1 0 1 0 -12.2 0zM874.53 208.85a6.1 6.1 0 1 0 12.2 0a6.1 6.1 0 1 0 -12.2 0zM873.32 211.79a6.1 6.1 0 1 0 12.2 0a6.1 6.1 0 1 0 -12.2 0zM871.98 214.74a6.1 6.1 0 1 0 12.2 0a6.1 6.1 0 1 0 -12.2 0zM870.09 217.68a6.1 6.1 0 1 0 12.2 0a6.1 6.1 0 1 0 -12.2 0zM867.82 220.63a6.1 6.1 0 1 0 12.2 0a6.1 6.1 0 1 0 -12.2 0zM865.19 223.57a6.1 6.1 0 1 0 12.2 0a6.1 6.1 0 1 0 -12.2 0zM863.83 226.52a6.1 6.1 0 1 0 12.2 0a6.1 6.1 0 1 0 -12.2 0zM862.44 229.46a6.1 6.1 0 1 0 12.2 0a6.1 6.1 0 1 0 -12.2 0zM860.49 232.41a6.1 6.1 0 1 0 12.2 0a6.1 6.1 0 1 0 -12.2 0zM859.08 235.35a6.1 6.1 0 1 0 12.2 0a6.1 6.1 0 1 0 -12.2 0zM857.74 238.3a6.1 6.1 0 1 0 12.2 0a6.1 6.1 0 1 0 -12.2 0zM856.47 241.24a6.1 6.1 0 1 0 12.2 0a6.1 6.1 0 1 0 -12.2 0zM855.63 244.19a6.1 6.1 0 1 0 12.2 0a6.1 6.1 0 1 0 -12.2 0zM854.26 247.13a6.1 6.1 0 1 0 12.2 0a6.1 6.1 0 1 0 -12.2 0zM853.33 250.08a6.1 6.1 0 1 0 12.2 0a6.1 6.1 0 1 0 -12.2 0zM852.25 253.02a6.1 6.1 0 1 0 12.2 0a6.1 6.1 0 1 0 -12.2 0zM851.3 255.97a6.1 6.1 0 1 0 12.2 0a6.1 6.1 0 1 0 -12.2 0zM850.38 258.91a6.1 6.1 0 1 0 12.2 0a6.1 6.1 0 1 0 -12.2 0zM849.19 261.86a6.1 6.1 0 1 0 12.2 0a6.1 6.1 0 1 0 -12.2 0zM847.49 264.8a6.1 6.1 0 1 0 12.2 0a6.1 6.1 0 1 0 -12.2 0zM846.73 267.75a6.1 6.1 0 1 0 12.2 0a6.1 6.1 0 1 0 -12.2 0zM845.23 270.69a6.1 6.1 0 1 0 12.2 0a6.1 6.1 0 1 0 -12.2 0zM843.88 273.64a6.1 6.1 0 1 0 12.2 0a6.1 6.1 0 1 0 -12.2 0zM842.85 276.58a6.1 6.1 0 1 0 12.2 0a6.1 6.1 0 1 0 -12.2 0zM841.76 279.53a6.1 6.1 0 1 0 12.2 0a6.1 6.1 0 1 0 -12.2 0zM841.03 282.47a6.1 6.1 0 1 0 12.2 0a6.1 6.1 0 1 0 -12.2 0zM839.67 285.42a6.1 6.1 0 1 0 12.2 0a6.1 6.1 0 1 0 -12.2 0zM838.46 288.36a6.1 6.1 0 1 0 12.2 0a6.1 6.1 0 1 0 -12.2 0zM837.97 291.31a6.1 6.1 0 1 0 12.2 0a6.1 6.1 0 1 0 -12.2 0zM836.52 294.25a6.1 6.1 0 1 0 12.2 0a6.1 6.1 0 1 0 -12.2 0zM835.74 297.2a6.1 6.1 0 1 0 12.2 0a6.1 6.1 0 1 0 -12.2 0zM834.99 300.14a6.1 6.1 0 1 0 12.2 0a6.1 6.1 0 1 0 -12.2 0zM833.82 303.09a6.1 6.1 0 1 0 12.2 0a6.1 6.1 0 1 0 -12.2 0zM832.81 306.03a6.1 6.1 0 1 0 12.2 0a6.1 6.1 0 1 0 -12.2 0zM831.9 308.98a6.1 6.1 0 1 0 12.2 0a6.1 6.1 0 1 0 -12.2 0zM830.23 311.92a6.1 6.1 0 1 0 12.2 0a6.1 6.1 0 1 0 -12.2 0zM829.36 314.87a6.1 6.1 0 1 0 12.2 0a6.1 6.1 0 1 0 -12.2 0zM828.07 317.81a6.1 6.1 0 1 0 12.2 0a6.1 6.1 0 1 0 -12.2 0zM827.21 320.76a6.1 6.1 0 1 0 12.2 0a6.1 6.1 0 1 0 -12.2 0zM825.9 323.7a6.1 6.1 0 1 0 12.2 0a6.1 6.1 0 1 0 -12.2 0zM824.24 326.65a6.1 6.1 0 1 0 12.2 0a6.1 6.1 0 1 0 -12.2 0zM823.05 329.59a6.1 6.1 0 1 0 12.2 0a6.1 6.1 0 1 0 -12.2 0zM821.94 332.54a6.1 6.1 0 1 0 12.2 0a6.1 6.1 0 1 0 -12.2 0zM820.82 335.48a6.1 6.1 0 1 0 12.2 0a6.1 6.1 0 1 0 -12.2 0zM819.32 338.43a6.1 6.1 0 1 0 12.2 0a6.1 6.1 0 1 0 -12.2 0zM818.07 341.37a6.1 6.1 0 1 0 12.2 0a6.1 6.1 0 1 0 -12.2 0zM817.13 344.32a6.1 6.1 0 1 0 12.2 0a6.1 6.1 0 1 0 -12.2 0zM815.89 347.26a6.1 6.1 0 1 0 12.2 0a6.1 6.1 0 1 0 -12.2 0zM814.36 350.21a6.1 6.1 0 1 0 12.2 0a6.1 6.1 0 1 0 -12.2 0zM813.46 353.15a6.1 6.1 0 1 0 12.2 0a6.1 6.1 0 1 0 -12.2 0zM811.92 356.1a6.1 6.1 0 1 0 12.2 0a6.1 6.1 0 1 0 -12.2 0zM810.57 359.04a6.1 6.1 0 1 0 12.2 0a6.1 6.1 0 1 0 -12.2 0zM809.64 361.99a6.1 6.1 0 1 0 12.2 0a6.1 6.1 0 1 0 -12.2 0zM808.52 364.93a6.1 6.1 0 1 0 12.2 0a6.1 6.1 0 1 0 -12.2 0zM807.45 367.88a6.1 6.1 0 1 0 12.2 0a6.1 6.1 0 1 0 -12.2 0zM806.27 370.82a6.1 6.1 0 1 0 12.2 0a6.1 6.1 0 1 0 -12.2 0zM804.94 373.77a6.1 6.1 0 1 0 12.2 0a6.1 6.1 0 1 0 -12.2 0zM803.72 376.71a6.1 6.1 0 1 0 12.2 0a6.1 6.1 0 1 0 -12.2 0zM802.47 379.66a6.1 6.1 0 1 0 12.2 0a6.1 6.1 0 1 0 -12.2 0zM801.25 382.6a6.1 6.1 0 1 0 12.2 0a6.1 6.1 0 1 0 -12.2 0zM800.13 385.55a6.1 6.1 0 1 0 12.2 0a6.1 6.1 0 1 0 -12.2 0zM799.42 388.49a6.1 6.1 0 1 0 12.2 0a6.1 6.1 0 1 0 -12.2 0zM798.21 391.44a6.1 6.1 0 1 0 12.2 0a6.1 6.1 0 1 0 -12.2 0zM797.19 394.38a6.1 6.1 0 1 0 12.2 0a6.1 6.1 0 1 0 -12.2 0zM796.45 397.33a6.1 6.1 0 1 0 12.2 0a6.1 6.1 0 1 0 -12.2 0zM795.59 400.27a6.1 6.1 0 1 0 12.2 0a6.1 6.1 0 1 0 -12.2 0zM794.83 403.22a6.1 6.1 0 1 0 12.2 0a6.1 6.1 0 1 0 -12.2 0zM794.26 406.16a6.1 6.1 0 1 0 12.2 0a6.1 6.1 0 1 0 -12.2 0zM792.97 409.11a6.1 6.1 0 1 0 12.2 0a6.1 6.1 0 1 0 -12.2 0zM792.37 412.05a6.1 6.1 0 1 0 12.2 0a6.1 6.1 0 1 0 -12.2 0zM791.75 415a6.1 6.1 0 1 0 12.2 0a6.1 6.1 0 1 0 -12.2 0zM790.59 417.94a6.1 6.1 0 1 0 12.2 0a6.1 6.1 0 1 0 -12.2 0zM789.63 420.89a6.1 6.1 0 1 0 12.2 0a6.1 6.1 0 1 0 -12.2 0zM788.86 423.83a6.1 6.1 0 1 0 12.2 0a6.1 6.1 0 1 0 -12.2 0zM787.85 426.78a6.1 6.1 0 1 0 12.2 0a6.1 6.1 0 1 0 -12.2 0zM787.38 429.72a6.1 6.1 0 1 0 12.2 0a6.1 6.1 0 1 0 -12.2 0zM786.09 432.67a6.1 6.1 0 1 0 12.2 0a6.1 6.1 0 1 0 -12.2 0zM785.2 435.61a6.1 6.1 0 1 0 12.2 0a6.1 6.1 0 1 0 -12.2 0zM784.66 438.56a6.1 6.1 0 1 0 12.2 0a6.1 6.1 0 1 0 -12.2 0zM783.77 441.5a6.1 6.1 0 1 0 12.2 0a6.1 6.1 0 1 0 -12.2 0zM782.89 444.45a6.1 6.1 0 1 0 12.2 0a6.1 6.1 0 1 0 -12.2 0zM782.33 447.39a6.1 6.1 0 1 0 12.2 0a6.1 6.1 0 1 0 -12.2 0zM781.06 450.34a6.1 6.1 0 1 0 12.2 0a6.1 6.1 0 1 0 -12.2 0zM780.85 453.28a6.1 6.1 0 1 0 12.2 0a6.1 6.1 0 1 0 -12.2 0zM779.86 456.23a6.1 6.1 0 1 0 12.2 0a6.1 6.1 0 1 0 -12.2 0zM778.95 459.17a6.1 6.1 0 1 0 12.2 0a6.1 6.1 0 1 0 -12.2 0zM778.62 461.68a6.1 6.1 0 1 0 12.2 0a6.1 6.1 0 1 0 -12.2 0zM776.63 469.04a6.1 6.1 0 1 0 12.2 0a6.1 6.1 0 1 0 -12.2 0zM774.95 476.4a6.1 6.1 0 1 0 12.2 0a6.1 6.1 0 1 0 -12.2 0zM773.02 483.76a6.1 6.1 0 1 0 12.2 0a6.1 6.1 0 1 0 -12.2 0zM772.23 491.13a6.1 6.1 0 1 0 12.2 0a6.1 6.1 0 1 0 -12.2 0zM771.1 498.49a6.1 6.1 0 1 0 12.2 0a6.1 6.1 0 1 0 -12.2 0zM769.48 505.85a6.1 6.1 0 1 0 12.2 0a6.1 6.1 0 1 0 -12.2 0zM767.35 513.22a6.1 6.1 0 1 0 12.2 0a6.1 6.1 0 1 0 -12.2 0zM765.35 520.58a6.1 6.1 0 1 0 12.2 0a6.1 6.1 0 1 0 -12.2 0zM763.84 527.94a6.1 6.1 0 1 0 12.2 0a6.1 6.1 0 1 0 -12.2 0zM761.91 535.3a6.1 6.1 0 1 0 12.2 0a6.1 6.1 0 1 0 -12.2 0zM760.35 542.66a6.1 6.1 0 1 0 12.2 0a6.1 6.1 0 1 0 -12.2 0zM758.13 550.03a6.1 6.1 0 1 0 12.2 0a6.1 6.1 0 1 0 -12.2 0zM756.14 557.39a6.1 6.1 0 1 0 12.2 0a6.1 6.1 0 1 0 -12.2 0zM754.06 564.75a6.1 6.1 0 1 0 12.2 0a6.1 6.1 0 1 0 -12.2 0zM751.73 572.11a6.1 6.1 0 1 0 12.2 0a6.1 6.1 0 1 0 -12.2 0zM749.69 579.48a6.1 6.1 0 1 0 12.2 0a6.1 6.1 0 1 0 -12.2 0zM747.12 586.84a6.1 6.1 0 1 0 12.2 0a6.1 6.1 0 1 0 -12.2 0zM744.49 594.2a6.1 6.1 0 1 0 12.2 0a6.1 6.1 0 1 0 -12.2 0zM741.09 601.56a6.1 6.1 0 1 0 12.2 0a6.1 6.1 0 1 0 -12.2 0z" fill="#0000ff"/>
<polyline points="680.8,21.4 680.8,24.34 680.8,27.29 680.8,30.23 680.8,33.18 680.8,36.12 680.8,39.07 681.5,43.49 695.6,50.85 717.8,58.21 733.4,65.57 745.6,72.94 757.6,80.3 766,87.66 772.5,95.03 785,109.75 793.5,124.47 802.3,139.2 810.3,153.93 817.4,168.65 828.3,205.46 825.5,242.28 813.7,315.9 793,389.52 776.4,463.15 765,536.77 747.4,610.4" fill="none" stroke="#008000" stroke-width="3" stroke-linejoin="round" stroke-linecap="butt"/>
<path d="M674.7 21.4a6.1 6.1 0 1 0 12.2 0a6.1 6.1 0 1 0 -12.2 0zM674.7 24.34a6.1 6.1 0 1 0 12.2 0a6.1 6.1 0 1 0 -12.2 0zM674.7 27.29a6.1 6.1 0 1 0 12.2 0a6.1 6.1 0 1 0 -12.2 0zM674.7 30.23a6.1 6.1 0 1 0 12.2 0a6.1 6.1 0 1 0 -12.2 0zM674.7 33.18a6.1 6.1 0 1 0 12.2 0a6.1 6.1 0 1 0 -12.2 0zM674.7 36.12a6.1 6.1 0 1 0 12.2 0a6.1 6.1 0 1 0 -12.2 0zM674.7 39.07a6.1 6.1 0 1 0 12.2 0a6.1 6.1 0 1 0 -12.2 0zM675.4 43.49a6.1 6.1 0 1 0 12.2 0a6.1 6.1 0 1 0 -12.2 0zM689.5 50.85a6.1 6.1 0 1 0 12.2 0a6.1 6.1 0 1 0 -12.2 0zM711.7 58.21a6.1 6.1 0 1 0 12.2 0a6.1 6.1 0 1 0 -12.2 0zM727.3 65.57a6.1 6.1 0 1 0 12.2 0a6.1 6.1 0 1 0 -12.2 0zM739.5 72.94a6.1 6.1 0 1 0 12.2 0a6.1 6.1 0 1 0 -12.2 0zM751.5 80.3a6.1 6.1 0 1 0 12.2 0a6.1 6.1 0 1 0 -12.2 0zM759.9 87.66a6.1 6.1 0 1 0 12.2 0a6.1 6.1 0 1 0 -12.2 0zM766.4 95.03a6.1 6.1 0 1 0 12.2 0a6.1 6.1 0 1 0 -12.2 0zM778.9 109.75a6.1 6.1 0 1 0 12.2 0a6.1 6.1 0 1 0 -12.2 0zM787.4 124.47a6.1 6.1 0 1 0 12.2 0a6.1 6.1 0 1 0 -12.2 0zM796.2 139.2a6.1 6.1 0 1 0 12.2 0a6.1 6.1 0 1 0 -12.2 0zM804.2 153.93a6.1 6.1 0 1 0 12.2 0a6.1 6.1 0 1 0 -12.2 0zM811.3 168.65a6.1 6.1 0 1 0 12.2 0a6.1 6.1 0 1 0 -12.2 0zM822.2 205.46a6.1 6.1 0 1 0 12.2 0a6.1 6.1 0 1 0 -12.2 0zM819.4 242.28a6.1 6.1 0 1 0 12.2 0a6.1 6.1 0 1 0 -12.2 0zM807.6 315.9a6.1 6.1 0 1 0 12.2 0a6.1 6.1 0 1 0 -12.2 0zM786.9 389.52a6.1 6.1 0 1 0 12.2 0a6.1 6.1 0 1 0 -12.2 0zM770.3 463.15a6.1 6.1 0 1 0 12.2 0a6.1 6.1 0 1 0 -12.2 0zM758.9 536.77a6.1 6.1 0 1 0 12.2 0a6.1 6.1 0 1 0 -12.2 0zM741.3 610.4a6.1 6.1 0 1 0 12.2 0a6.1 6.1 0 1 0 -12.2 0z" fill="#008000"/>
<polyline points="664.7,21.4 664.6,24.34 664.5,27.29 664.4,30.23 664.3,33.18 664.2,36.12 663.96,39.07 663.6,43.49 663,50.85 663.5,58.21 665.3,65.57 676.6,72.94 699.3,80.3 720.4,87.66 741.3,95.03 776.4,109.75 806.5,124.47 827.6,139.2 837.4,153.93 844.5,168.65 848.4,205.46 845.2,242.28 826.5,315.9 805.8,389.52 782.9,463.15 758.5,536.77 734.4,610.4" fill="none" stroke="#ff0000" stroke-width="3" stroke-linejoin="round" stroke-linecap="butt"/>
<path d="M658.6 21.4a6.1 6.1 0 1 0 12.2 0a6.1 6.1 0 1 0 -12.2 0zM658.5 24.34a6.1 6.1 0 1 0 12.2 0a6.1 6.1 0 1 0 -12.2 0zM658.4 27.29a6.1 6.1 0 1 0 12.2 0a6.1 6.1 0 1 0 -12.2 0zM658.3 30.23a6.1 6.1 0 1 0 12.2 0a6.1 6.1 0 1 0 -12.2 0zM658.2 33.18a6.1 6.1 0 1 0 12.2 0a6.1 6.1 0 1 0 -12.2 0zM658.1 36.12a6.1 6.1 0 1 0 12.2 0a6.1 6.1 0 1 0 -12.2 0zM657.86 39.07a6.1 6.1 0 1 0 12.2 0a6.1 6.1 0 1 0 -12.2 0zM657.5 43.49a6.1 6.1 0 1 0 12.2 0a6.1 6.1 0 1 0 -12.2 0zM656.9 50.85a6.1 6.1 0 1 0 12.2 0a6.1 6.1 0 1 0 -12.2 0zM657.4 58.21a6.1 6.1 0 1 0 12.2 0a6.1 6.1 0 1 0 -12.2 0zM659.2 65.57a6.1 6.1 0 1 0 12.2 0a6.1 6.1 0 1 0 -12.2 0zM670.5 72.94a6.1 6.1 0 1 0 12.2 0a6.1 6.1 0 1 0 -12.2 0zM693.2 80.3a6.1 6.1 0 1 0 12.2 0a6.1 6.1 0 1 0 -12.2 0zM714.3 87.66a6.1 6.1 0 1 0 12.2 0a6.1 6.1 0 1 0 -12.2 0zM735.2 95.03a6.1 6.1 0 1 0 12.2 0a6.1 6.1 0 1 0 -12.2 0zM770.3 109.75a6.1 6.1 0 1 0 12.2 0a6.1 6.1 0 1 0 -12.2 0zM800.4 124.47a6.1 6.1 0 1 0 12.2 0a6.1 6.1 0 1 0 -12.2 0zM821.5 139.2a6.1 6.1 0 1 0 12.2 0a6.1 6.1 0 1 0 -12.2 0zM831.3 153.93a6.1 6.1 0 1 0 12.2 0a6.1 6.1 0 1 0 -12.2 0zM838.4 168.65a6.1 6.1 0 1 0 12.2 0a6.1 6.1 0 1 0 -12.2 0zM842.3 205.46a6.1 6.1 0 1 0 12.2 0a6.1 6.1 0 1 0 -12.2 0zM839.1 242.28a6.1 6.1 0 1 0 12.2 0a6.1 6.1 0 1 0 -12.2 0zM820.4 315.9a6.1 6.1 0 1 0 12.2 0a6.1 6.1 0 1 0 -12.2 0zM799.7 389.52a6.1 6.1 0 1 0 12.2 0a6.1 6.1 0 1 0 -12.2 0zM776.8 463.15a6.1 6.1 0 1 0 12.2 0a6.1 6.1 0 1 0 -12.2 0zM752.4 536.77a6.1 6.1 0 1 0 12.2 0a6.1 6.1 0 1 0 -12.2 0zM728.3 610.4a6.1 6.1 0 1 0 12.2 0a6.1 6.1 0 1 0 -12.2 0z" fill="#ff0000"/>
<polyline points="563.6,22.12 563.58,23.67 563.55,25.3 563.53,27.02 563.5,28.88 563.47,30.88 563.43,33.08 563.4,35.49 563.36,38.19 563.31,41.23 563.26,44.68 563.2,48.64 563.4,53.21 584.3,58.51 636.3,64.69 678,72.05 720.6,80.74 763.8,91.2 807.5,103.57 835.6,118.29 852.5,136.11 862.7,157.31 872.6,182.93 875.4,213.86 867.6,250.96 845.5,295.43 818.6,349.03 793.6,413.08 772.6,489.8 745.6,581.24" fill="none" stroke="#ff00ff" stroke-width="3" stroke-linejoin="round" stroke-linecap="butt"/>
<path d="M557.5 22.12a6.1 6.1 0 1 0 12.2 0a6.1 6.1 0 1 0 -12.2 0zM557.48 23.67a6.1 6.1 0 1 0 12.2 0a6.1 6.1 0 1 0 -12.2 0zM557.45 25.3a6.1 6.1 0 1 0 12.2 0a6.1 6.1 0 1 0 -12.2 0zM557.43 27.02a6.1 6.1 0 1 0 12.2 0a6.1 6.1 0 1 0 -12.2 0zM557.4 28.88a6.1 6.1 0 1 0 12.2 0a6.1 6.1 0 1 0 -12.2 0zM557.37 30.88a6.1 6.1 0 1 0 12.2 0a6.1 6.1 0 1 0 -12.2 0zM557.33 33.08a6.1 6.1 0 1 0 12.2 0a6.1 6.1 0 1 0 -12.2 0zM557.3 35.49a6.1 6.1 0 1 0 12.2 0a6.1 6.1 0 1 0 -12.2 0zM557.26 38.19a6.1 6.1 0 1 0 12.2 0a6.1 6.1 0 1 0 -12.2 0zM557.21 41.23a6.1 6.1 0 1 0 12.2 0a6.1 6.1 0 1 0 -12.2 0zM557.16 44.68a6.1 6.1 0 1 0 12.2 0a6.1 6.1 0 1 0 -12.2 0zM557.1 48.64a6.1 6.1 0 1 0 12.2 0a6.1 6.1 0 1 0 -12.2 0zM557.3 53.21a6.1 6.1 0 1 0 12.2 0a6.1 6.1 0 1 0 -12.2 0zM578.2 58.51a6.1 6.1 0 1 0 12.2 0a6.1 6.1 0 1 0 -12.2 0zM630.2 64.69a6.1 6.1 0 1 0 12.2 0a6.1 6.1 0 1 0 -12.2 0zM671.9 72.05a6.1 6.1 0 1 0 12.2 0a6.1 6.1 0 1 0 -12.2 0zM714.5 80.74a6.1 6.1 0 1 0 12.2 0a6.1 6.1 0 1 0 -12.2 0zM757.7 91.2a6.1 6.1 0 1 0 12.2 0a6.1 6.1 0 1 0 -12.2 0zM801.4 103.57a6.1 6.1 0 1 0 12.2 0a6.1 6.1 0 1 0 -12.2 0zM829.5 118.29a6.1 6.1 0 1 0 12.2 0a6.1 6.1 0 1 0 -12.2 0zM846.4 136.11a6.1 6.1 0 1 0 12.2 0a6.1 6.1 0 1 0 -12.2 0zM856.6 157.31a6.1 6.1 0 1 0 12.2 0a6.1 6.1 0 1 0 -12.2 0zM866.5 182.93a6.1 6.1 0 1 0 12.2 0a6.1 6.1 0 1 0 -12.2 0zM869.3 213.86a6.1 6.1 0 1 0 12.2 0a6.1 6.1 0 1 0 -12.2 0zM861.5 250.96a6.1 6.1 0 1 0 12.2 0a6.1 6.1 0 1 0 -12.2 0zM839.4 295.43a6.1 6.1 0 1 0 12.2 0a6.1 6.1 0 1 0 -12.2 0zM812.5 349.03a6.1 6.1 0 1 0 12.2 0a6.1 6.1 0 1 0 -12.2 0zM787.5 413.08a6.1 6.1 0 1 0 12.2 0a6.1 6.1 0 1 0 -12.2 0zM766.5 489.8a6.1 6.1 0 1 0 12.2 0a6.1 6.1 0 1 0 -12.2 0zM739.5 581.24a6.1 6.1 0 1 0 12.2 0a6.1 6.1 0 1 0 -12.2 0z" fill="#ff00ff"/>
</g>
<path d="M609.5 610.5v6.3M724.5 610.5v6.3M839.5 610.5v6.3M524.5 21.5h-6.3M524.5 95.5h-6.3M524.5 168.5h-6.3M524.5 242.5h-6.3M524.5 315.5h-6.3M524.5 389.5h-6.3M524.5 463.5h-6.3M524.5 536.5h-6.3M524.5 610.5h-6.3" fill="none" stroke="#000" stroke-width="1.16"/>
<rect x="524.5" y="21.5" width="388" height="589" fill="none" stroke="#000" stroke-width="1.16"/>
<g font-size="23.15" text-anchor="middle" fill="#000" letter-spacing="-1">
<text x="609.25" y="640.4">35</text>
<text x="723.05" y="640.4">36</text>
<text x="837.85" y="640.4">37</text>
</g>
</g>
<g>
<path d="M994.5 610.5V21.5M1093.5 610.5V21.5M1192.5 610.5V21.5M1290.5 610.5V21.5M949.5 95.5H1337.5M949.5 168.5H1337.5M949.5 242.5H1337.5M949.5 315.5H1337.5M949.5 389.5H1337.5M949.5 463.5H1337.5M949.5 536.5H1337.5" fill="none" stroke="#a7a7a7" stroke-width="0.87" stroke-dasharray="3.21 1.39"/>
<g clip-path="url(#c2)">
<polyline points="973.82,27.73 974.36,29.2 974.38,32.15 975.28,35.09 977.74,38.04 981.04,40.98 984.9,43.93 989.9,46.87 995.27,49.82 1000.45,52.76 1004.42,55.71 1006.96,58.65 1010.46,61.6 1014.66,64.54 1020.06,67.49 1026.05,70.43 1030.96,73.38 1035.41,76.32 1039.45,79.27 1043.31,82.21 1048.41,85.16 1053.29,88.1 1056.98,91.05 1061.29,93.99 1065.03,96.94 1067.76,99.88 1072.04,102.83 1076.68,105.77 1080.37,108.72 1083.6,111.66 1086.78,114.61 1090.18,117.55 1093.07,120.5 1096.08,123.44 1098.97,126.39 1103.28,129.33 1107.32,132.28 1110.31,135.22 1113.04,138.17 1115.44,141.11 1118.13,144.06 1121.37,147 1125.09,149.95 1128.6,152.89 1132.58,155.84 1136.67,158.78 1139.55,161.73 1142.06,164.67 1143.83,167.62 1146.38,170.56 1148.6,173.51 1151.09,176.45 1153.71,179.4 1155.96,182.34 1158.19,185.29 1160.83,188.23 1162.96,191.18 1164.56,194.12 1165.68,197.07 1167.19,200.01 1168.85,202.96 1170.18,205.9 1171.31,208.85 1173.49,211.79 1175.79,214.74 1177.7,217.68 1180.38,220.63 1182.69,223.57 1184.94,226.52 1186.9,229.46 1188.6,232.41 1189.65,235.35 1191.23,238.3 1192.79,241.24 1194.43,244.19 1195.75,247.13 1197.01,250.08 1198.6,253.02 1200.05,255.97 1201.5,258.91 1202.88,261.86 1204.49,264.8 1205.98,267.75 1207.88,270.69 1209.67,273.64 1211.28,276.58 1213.02,279.53 1214.98,282.47 1216.82,285.42 1218.4,288.36 1219.81,291.31 1221.22,294.25 1222.01,297.2 1223.84,300.14 1224.81,303.09 1226.25,306.03 1227.6,308.98 1228.49,311.92 1229.08,314.87 1230.33,317.81 1230.91,320.76 1232.02,323.7 1233.3,326.65 1234.45,329.59 1235.94,332.54 1237.4,335.48 1238.84,338.43 1240.19,341.37 1241.13,344.32 1242.71,347.26 1243.8,350.21 1244.62,353.15 1245.97,356.1 1247.07,359.04 1248.26,361.99 1249.39,364.93 1249.97,367.88 1251.09,370.82 1252.41,373.77 1253.15,376.71 1254.27,379.66 1255.54,382.6 1256.33,385.55 1257.54,388.49 1258.43,391.44 1258.78,394.38 1259.92,397.33 1260.92,400.27 1261.87,403.22 1262.28,406.16 1262.97,409.11 1264.15,412.05 1264.92,415 1265.25,417.94 1266.15,420.89 1267.07,423.83 1267.86,426.78 1268.16,429.72 1269.15,432.67 1269.94,435.61 1270.48,438.56 1270.95,441.5 1271.58,444.45 1272.38,447.39 1273.33,450.34 1273.5,453.28 1274.11,456.23 1274.95,459.17 1275.31,461.68 1277.4,469.04 1279.69,476.4 1282.34,483.76 1284.3,491.13 1285.86,498.49 1287.4,505.85 1289.22,513.22 1290.99,520.58 1292.81,527.94 1294.45,535.3 1295.63,542.66 1297.13,550.03 1299.26,557.39 1300.96,564.75 1302.23,572.11 1303.97,579.48 1305.59,586.84 1306.79,594.2 1308,601.56" fill="none" stroke="#0000ff" stroke-width="3" stroke-linejoin="round" stroke-linecap="butt"/>
<path d="M967.72 27.73a6.1 6.1 0 1 0 12.2 0a6.1 6.1 0 1 0 -12.2 0zM968.26 29.2a6.1 6.1 0 1 0 12.2 0a6.1 6.1 0 1 0 -12.2 0zM968.28 32.15a6.1 6.1 0 1 0 12.2 0a6.1 6.1 0 1 0 -12.2 0zM969.18 35.09a6.1 6.1 0 1 0 12.2 0a6.1 6.1 0 1 0 -12.2 0zM971.64 38.04a6.1 6.1 0 1 0 12.2 0a6.1 6.1 0 1 0 -12.2 0zM974.94 40.98a6.1 6.1 0 1 0 12.2 0a6.1 6.1 0 1 0 -12.2 0zM978.8 43.93a6.1 6.1 0 1 0 12.2 0a6.1 6.1 0 1 0 -12.2 0zM983.8 46.87a6.1 6.1 0 1 0 12.2 0a6.1 6.1 0 1 0 -12.2 0zM989.17 49.82a6.1 6.1 0 1 0 12.2 0a6.1 6.1 0 1 0 -12.2 0zM994.35 52.76a6.1 6.1 0 1 0 12.2 0a6.1 6.1 0 1 0 -12.2 0zM998.32 55.71a6.1 6.1 0 1 0 12.2 0a6.1 6.1 0 1 0 -12.2 0zM1000.86 58.65a6.1 6.1 0 1 0 12.2 0a6.1 6.1 0 1 0 -12.2 0zM1004.36 61.6a6.1 6.1 0 1 0 12.2 0a6.1 6.1 0 1 0 -12.2 0zM1008.56 64.54a6.1 6.1 0 1 0 12.2 0a6.1 6.1 0 1 0 -12.2 0zM1013.96 67.49a6.1 6.1 0 1 0 12.2 0a6.1 6.1 0 1 0 -12.2 0zM1019.95 70.43a6.1 6.1 0 1 0 12.2 0a6.1 6.1 0 1 0 -12.2 0zM1024.86 73.38a6.1 6.1 0 1 0 12.2 0a6.1 6.1 0 1 0 -12.2 0zM1029.31 76.32a6.1 6.1 0 1 0 12.2 0a6.1 6.1 0 1 0 -12.2 0zM1033.35 79.27a6.1 6.1 0 1 0 12.2 0a6.1 6.1 0 1 0 -12.2 0zM1037.21 82.21a6.1 6.1 0 1 0 12.2 0a6.1 6.1 0 1 0 -12.2 0zM1042.31 85.16a6.1 6.1 0 1 0 12.2 0a6.1 6.1 0 1 0 -12.2 0zM1047.19 88.1a6.1 6.1 0 1 0 12.2 0a6.1 6.1 0 1 0 -12.2 0zM1050.88 91.05a6.1 6.1 0 1 0 12.2 0a6.1 6.1 0 1 0 -12.2 0zM1055.19 93.99a6.1 6.1 0 1 0 12.2 0a6.1 6.1 0 1 0 -12.2 0zM1058.93 96.94a6.1 6.1 0 1 0 12.2 0a6.1 6.1 0 1 0 -12.2 0zM1061.66 99.88a6.1 6.1 0 1 0 12.2 0a6.1 6.1 0 1 0 -12.2 0zM1065.94 102.83a6.1 6.1 0 1 0 12.2 0a6.1 6.1 0 1 0 -12.2 0zM1070.58 105.77a6.1 6.1 0 1 0 12.2 0a6.1 6.1 0 1 0 -12.2 0zM1074.27 108.72a6.1 6.1 0 1 0 12.2 0a6.1 6.1 0 1 0 -12.2 0zM1077.5 111.66a6.1 6.1 0 1 0 12.2 0a6.1 6.1 0 1 0 -12.2 0zM1080.68 114.61a6.1 6.1 0 1 0 12.2 0a6.1 6.1 0 1 0 -12.2 0zM1084.08 117.55a6.1 6.1 0 1 0 12.2 0a6.1 6.1 0 1 0 -12.2 0zM1086.97 120.5a6.1 6.1 0 1 0 12.2 0a6.1 6.1 0 1 0 -12.2 0zM1089.98 123.44a6.1 6.1 0 1 0 12.2 0a6.1 6.1 0 1 0 -12.2 0zM1092.87 126.39a6.1 6.1 0 1 0 12.2 0a6.1 6.1 0 1 0 -12.2 0zM1097.18 129.33a6.1 6.1 0 1 0 12.2 0a6.1 6.1 0 1 0 -12.2 0zM1101.22 132.28a6.1 6.1 0 1 0 12.2 0a6.1 6.1 0 1 0 -12.2 0zM1104.21 135.22a6.1 6.1 0 1 0 12.2 0a6.1 6.1 0 1 0 -12.2 0zM1106.94 138.17a6.1 6.1 0 1 0 12.2 0a6.1 6.1 0 1 0 -12.2 0zM1109.34 141.11a6.1 6.1 0 1 0 12.2 0a6.1 6.1 0 1 0 -12.2 0zM1112.03 144.06a6.1 6.1 0 1 0 12.2 0a6.1 6.1 0 1 0 -12.2 0zM1115.27 147a6.1 6.1 0 1 0 12.2 0a6.1 6.1 0 1 0 -12.2 0zM1118.99 149.95a6.1 6.1 0 1 0 12.2 0a6.1 6.1 0 1 0 -12.2 0zM1122.5 152.89a6.1 6.1 0 1 0 12.2 0a6.1 6.1 0 1 0 -12.2 0zM1126.48 155.84a6.1 6.1 0 1 0 12.2 0a6.1 6.1 0 1 0 -12.2 0zM1130.57 158.78a6.1 6.1 0 1 0 12.2 0a6.1 6.1 0 1 0 -12.2 0zM1133.45 161.73a6.1 6.1 0 1 0 12.2 0a6.1 6.1 0 1 0 -12.2 0zM1135.96 164.67a6.1 6.1 0 1 0 12.2 0a6.1 6.1 0 1 0 -12.2 0zM1137.73 167.62a6.1 6.1 0 1 0 12.2 0a6.1 6.1 0 1 0 -12.2 0zM1140.28 170.56a6.1 6.1 0 1 0 12.2 0a6.1 6.1 0 1 0 -12.2 0zM1142.5 173.51a6.1 6.1 0 1 0 12.2 0a6.1 6.1 0 1 0 -12.2 0zM1144.99 176.45a6.1 6.1 0 1 0 12.2 0a6.1 6.1 0 1 0 -12.2 0zM1147.61 179.4a6.1 6.1 0 1 0 12.2 0a6.1 6.1 0 1 0 -12.2 0zM1149.86 182.34a6.1 6.1 0 1 0 12.2 0a6.1 6.1 0 1 0 -12.2 0zM1152.09 185.29a6.1 6.1 0 1 0 12.2 0a6.1 6.1 0 1 0 -12.2 0zM1154.73 188.23a6.1 6.1 0 1 0 12.2 0a6.1 6.1 0 1 0 -12.2 0zM1156.86 191.18a6.1 6.1 0 1 0 12.2 0a6.1 6.1 0 1 0 -12.2 0zM1158.46 194.12a6.1 6.1 0 1 0 12.2 0a6.1 6.1 0 1 0 -12.2 0zM1159.58 197.07a6.1 6.1 0 1 0 12.2 0a6.1 6.1 0 1 0 -12.2 0zM1161.09 200.01a6.1 6.1 0 1 0 12.2 0a6.1 6.1 0 1 0 -12.2 0zM1162.75 202.96a6.1 6.1 0 1 0 12.2 0a6.1 6.1 0 1 0 -12.2 0zM1164.08 205.9a6.1 6.1 0 1 0 12.2 0a6.1 6.1 0 1 0 -12.2 0zM1165.21 208.85a6.1 6.1 0 1 0 12.2 0a6.1 6.1 0 1 0 -12.2 0zM1167.39 211.79a6.1 6.1 0 1 0 12.2 0a6.1 6.1 0 1 0 -12.2 0zM1169.69 214.74a6.1 6.1 0 1 0 12.2 0a6.1 6.1 0 1 0 -12.2 0zM1171.6 217.68a6.1 6.1 0 1 0 12.2 0a6.1 6.1 0 1 0 -12.2 0zM1174.28 220.63a6.1 6.1 0 1 0 12.2 0a6.1 6.1 0 1 0 -12.2 0zM1176.59 223.57a6.1 6.1 0 1 0 12.2 0a6.1 6.1 0 1 0 -12.2 0zM1178.84 226.52a6.1 6.1 0 1 0 12.2 0a6.1 6.1 0 1 0 -12.2 0zM1180.8 229.46a6.1 6.1 0 1 0 12.2 0a6.1 6.1 0 1 0 -12.2 0zM1182.5 232.41a6.1 6.1 0 1 0 12.2 0a6.1 6.1 0 1 0 -12.2 0zM1183.55 235.35a6.1 6.1 0 1 0 12.2 0a6.1 6.1 0 1 0 -12.2 0zM1185.13 238.3a6.1 6.1 0 1 0 12.2 0a6.1 6.1 0 1 0 -12.2 0zM1186.69 241.24a6.1 6.1 0 1 0 12.2 0a6.1 6.1 0 1 0 -12.2 0zM1188.33 244.19a6.1 6.1 0 1 0 12.2 0a6.1 6.1 0 1 0 -12.2 0zM1189.65 247.13a6.1 6.1 0 1 0 12.2 0a6.1 6.1 0 1 0 -12.2 0zM1190.91 250.08a6.1 6.1 0 1 0 12.2 0a6.1 6.1 0 1 0 -12.2 0zM1192.5 253.02a6.1 6.1 0 1 0 12.2 0a6.1 6.1 0 1 0 -12.2 0zM1193.95 255.97a6.1 6.1 0 1 0 12.2 0a6.1 6.1 0 1 0 -12.2 0zM1195.4 258.91a6.1 6.1 0 1 0 12.2 0a6.1 6.1 0 1 0 -12.2 0zM1196.78 261.86a6.1 6.1 0 1 0 12.2 0a6.1 6.1 0 1 0 -12.2 0zM1198.39 264.8a6.1 6.1 0 1 0 12.2 0a6.1 6.1 0 1 0 -12.2 0zM1199.88 267.75a6.1 6.1 0 1 0 12.2 0a6.1 6.1 0 1 0 -12.2 0zM1201.78 270.69a6.1 6.1 0 1 0 12.2 0a6.1 6.1 0 1 0 -12.2 0zM1203.57 273.64a6.1 6.1 0 1 0 12.2 0a6.1 6.1 0 1 0 -12.2 0zM1205.18 276.58a6.1 6.1 0 1 0 12.2 0a6.1 6.1 0 1 0 -12.2 0zM1206.92 279.53a6.1 6.1 0 1 0 12.2 0a6.1 6.1 0 1 0 -12.2 0zM1208.88 282.47a6.1 6.1 0 1 0 12.2 0a6.1 6.1 0 1 0 -12.2 0zM1210.72 285.42a6.1 6.1 0 1 0 12.2 0a6.1 6.1 0 1 0 -12.2 0zM1212.3 288.36a6.1 6.1 0 1 0 12.2 0a6.1 6.1 0 1 0 -12.2 0zM1213.71 291.31a6.1 6.1 0 1 0 12.2 0a6.1 6.1 0 1 0 -12.2 0zM1215.12 294.25a6.1 6.1 0 1 0 12.2 0a6.1 6.1 0 1 0 -12.2 0zM1215.91 297.2a6.1 6.1 0 1 0 12.2 0a6.1 6.1 0 1 0 -12.2 0zM1217.74 300.14a6.1 6.1 0 1 0 12.2 0a6.1 6.1 0 1 0 -12.2 0zM1218.71 303.09a6.1 6.1 0 1 0 12.2 0a6.1 6.1 0 1 0 -12.2 0zM1220.15 306.03a6.1 6.1 0 1 0 12.2 0a6.1 6.1 0 1 0 -12.2 0zM1221.5 308.98a6.1 6.1 0 1 0 12.2 0a6.1 6.1 0 1 0 -12.2 0zM1222.39 311.92a6.1 6.1 0 1 0 12.2 0a6.1 6.1 0 1 0 -12.2 0zM1222.98 314.87a6.1 6.1 0 1 0 12.2 0a6.1 6.1 0 1 0 -12.2 0zM1224.23 317.81a6.1 6.1 0 1 0 12.2 0a6.1 6.1 0 1 0 -12.2 0zM1224.81 320.76a6.1 6.1 0 1 0 12.2 0a6.1 6.1 0 1 0 -12.2 0zM1225.92 323.7a6.1 6.1 0 1 0 12.2 0a6.1 6.1 0 1 0 -12.2 0zM1227.2 326.65a6.1 6.1 0 1 0 12.2 0a6.1 6.1 0 1 0 -12.2 0zM1228.35 329.59a6.1 6.1 0 1 0 12.2 0a6.1 6.1 0 1 0 -12.2 0zM1229.84 332.54a6.1 6.1 0 1 0 12.2 0a6.1 6.1 0 1 0 -12.2 0zM1231.3 335.48a6.1 6.1 0 1 0 12.2 0a6.1 6.1 0 1 0 -12.2 0zM1232.74 338.43a6.1 6.1 0 1 0 12.2 0a6.1 6.1 0 1 0 -12.2 0zM1234.09 341.37a6.1 6.1 0 1 0 12.2 0a6.1 6.1 0 1 0 -12.2 0zM1235.03 344.32a6.1 6.1 0 1 0 12.2 0a6.1 6.1 0 1 0 -12.2 0zM1236.61 347.26a6.1 6.1 0 1 0 12.2 0a6.1 6.1 0 1 0 -12.2 0zM1237.7 350.21a6.1 6.1 0 1 0 12.2 0a6.1 6.1 0 1 0 -12.2 0zM1238.52 353.15a6.1 6.1 0 1 0 12.2 0a6.1 6.1 0 1 0 -12.2 0zM1239.87 356.1a6.1 6.1 0 1 0 12.2 0a6.1 6.1 0 1 0 -12.2 0zM1240.97 359.04a6.1 6.1 0 1 0 12.2 0a6.1 6.1 0 1 0 -12.2 0zM1242.16 361.99a6.1 6.1 0 1 0 12.2 0a6.1 6.1 0 1 0 -12.2 0zM1243.29 364.93a6.1 6.1 0 1 0 12.2 0a6.1 6.1 0 1 0 -12.2 0zM1243.87 367.88a6.1 6.1 0 1 0 12.2 0a6.1 6.1 0 1 0 -12.2 0zM1244.99 370.82a6.1 6.1 0 1 0 12.2 0a6.1 6.1 0 1 0 -12.2 0zM1246.31 373.77a6.1 6.1 0 1 0 12.2 0a6.1 6.1 0 1 0 -12.2 0zM1247.05 376.71a6.1 6.1 0 1 0 12.2 0a6.1 6.1 0 1 0 -12.2 0zM1248.17 379.66a6.1 6.1 0 1 0 12.2 0a6.1 6.1 0 1 0 -12.2 0zM1249.44 382.6a6.1 6.1 0 1 0 12.2 0a6.1 6.1 0 1 0 -12.2 0zM1250.23 385.55a6.1 6.1 0 1 0 12.2 0a6.1 6.1 0 1 0 -12.2 0zM1251.44 388.49a6.1 6.1 0 1 0 12.2 0a6.1 6.1 0 1 0 -12.2 0zM1252.33 391.44a6.1 6.1 0 1 0 12.2 0a6.1 6.1 0 1 0 -12.2 0zM1252.68 394.38a6.1 6.1 0 1 0 12.2 0a6.1 6.1 0 1 0 -12.2 0zM1253.82 397.33a6.1 6.1 0 1 0 12.2 0a6.1 6.1 0 1 0 -12.2 0zM1254.82 400.27a6.1 6.1 0 1 0 12.2 0a6.1 6.1 0 1 0 -12.2 0zM1255.77 403.22a6.1 6.1 0 1 0 12.2 0a6.1 6.1 0 1 0 -12.2 0zM1256.18 406.16a6.1 6.1 0 1 0 12.2 0a6.1 6.1 0 1 0 -12.2 0zM1256.87 409.11a6.1 6.1 0 1 0 12.2 0a6.1 6.1 0 1 0 -12.2 0zM1258.05 412.05a6.1 6.1 0 1 0 12.2 0a6.1 6.1 0 1 0 -12.2 0zM1258.82 415a6.1 6.1 0 1 0 12.2 0a6.1 6.1 0 1 0 -12.2 0zM1259.15 417.94a6.1 6.1 0 1 0 12.2 0a6.1 6.1 0 1 0 -12.2 0zM1260.05 420.89a6.1 6.1 0 1 0 12.2 0a6.1 6.1 0 1 0 -12.2 0zM1260.97 423.83a6.1 6.1 0 1 0 12.2 0a6.1 6.1 0 1 0 -12.2 0zM1261.76 426.78a6.1 6.1 0 1 0 12.2 0a6.1 6.1 0 1 0 -12.2 0zM1262.06 429.72a6.1 6.1 0 1 0 12.2 0a6.1 6.1 0 1 0 -12.2 0zM1263.05 432.67a6.1 6.1 0 1 0 12.2 0a6.1 6.1 0 1 0 -12.2 0zM1263.84 435.61a6.1 6.1 0 1 0 12.2 0a6.1 6.1 0 1 0 -12.2 0zM1264.38 438.56a6.1 6.1 0 1 0 12.2 0a6.1 6.1 0 1 0 -12.2 0zM1264.85 441.5a6.1 6.1 0 1 0 12.2 0a6.1 6.1 0 1 0 -12.2 0zM1265.48 444.45a6.1 6.1 0 1 0 12.2 0a6.1 6.1 0 1 0 -12.2 0zM1266.28 447.39a6.1 6.1 0 1 0 12.2 0a6.1 6.1 0 1 0 -12.2 0zM1267.23 450.34a6.1 6.1 0 1 0 12.2 0a6.1 6.1 0 1 0 -12.2 0zM1267.4 453.28a6.1 6.1 0 1 0 12.2 0a6.1 6.1 0 1 0 -12.2 0zM1268.01 456.23a6.1 6.1 0 1 0 12.2 0a6.1 6.1 0 1 0 -12.2 0zM1268.85 459.17a6.1 6.1 0 1 0 12.2 0a6.1 6.1 0 1 0 -12.2 0zM1269.21 461.68a6.1 6.1 0 1 0 12.2 0a6.1 6.1 0 1 0 -12.2 0zM1271.3 469.04a6.1 6.1 0 1 0 12.2 0a6.1 6.1 0 1 0 -12.2 0zM1273.59 476.4a6.1 6.1 0 1 0 12.2 0a6.1 6.1 0 1 0 -12.2 0zM1276.24 483.76a6.1 6.1 0 1 0 12.2 0a6.1 6.1 0 1 0 -12.2 0zM1278.2 491.13a6.1 6.1 0 1 0 12.2 0a6.1 6.1 0 1 0 -12.2 0zM1279.76 498.49a6.1 6.1 0 1 0 12.2 0a6.1 6.1 0 1 0 -12.2 0zM1281.3 505.85a6.1 6.1 0 1 0 12.2 0a6.1 6.1 0 1 0 -12.2 0zM1283.12 513.22a6.1 6.1 0 1 0 12.2 0a6.1 6.1 0 1 0 -12.2 0zM1284.89 520.58a6.1 6.1 0 1 0 12.2 0a6.1 6.1 0 1 0 -12.2 0zM1286.71 527.94a6.1 6.1 0 1 0 12.2 0a6.1 6.1 0 1 0 -12.2 0zM1288.35 535.3a6.1 6.1 0 1 0 12.2 0a6.1 6.1 0 1 0 -12.2 0zM1289.53 542.66a6.1 6.1 0 1 0 12.2 0a6.1 6.1 0 1 0 -12.2 0zM1291.03 550.03a6.1 6.1 0 1 0 12.2 0a6.1 6.1 0 1 0 -12.2 0zM1293.16 557.39a6.1 6.1 0 1 0 12.2 0a6.1 6.1 0 1 0 -12.2 0zM1294.86 564.75a6.1 6.1 0 1 0 12.2 0a6.1 6.1 0 1 0 -12.2 0zM1296.13 572.11a6.1 6.1 0 1 0 12.2 0a6.1 6.1 0 1 0 -12.2 0zM1297.87 579.48a6.1 6.1 0 1 0 12.2 0a6.1 6.1 0 1 0 -12.2 0zM1299.49 586.84a6.1 6.1 0 1 0 12.2 0a6.1 6.1 0 1 0 -12.2 0zM1300.69 594.2a6.1 6.1 0 1 0 12.2 0a6.1 6.1 0 1 0 -12.2 0zM1301.9 601.56a6.1 6.1 0 1 0 12.2 0a6.1 6.1 0 1 0 -12.2 0z" fill="#0000ff"/>
<polyline points="1022.7,21.4 1023.1,24.34 1023.5,27.29 1024.8,30.23 1026.1,33.18 1027.4,36.12 1028.4,39.07 1029.9,43.49 1035.5,50.85 1045.6,58.21 1053.1,65.57 1059.7,72.94 1068.5,80.3 1076.9,87.66 1085.7,95.03 1100.6,109.75 1117.5,124.47 1133.4,139.2 1146,153.93 1157.9,168.65 1180.8,205.46 1203.9,242.28 1237.5,315.9 1260.3,389.52 1278.5,463.15 1292.4,536.77 1306.9,610.4" fill="none" stroke="#008000" stroke-width="3" stroke-linejoin="round" stroke-linecap="butt"/>
<path d="M1016.6 21.4a6.1 6.1 0 1 0 12.2 0a6.1 6.1 0 1 0 -12.2 0zM1017 24.34a6.1 6.1 0 1 0 12.2 0a6.1 6.1 0 1 0 -12.2 0zM1017.4 27.29a6.1 6.1 0 1 0 12.2 0a6.1 6.1 0 1 0 -12.2 0zM1018.7 30.23a6.1 6.1 0 1 0 12.2 0a6.1 6.1 0 1 0 -12.2 0zM1020 33.18a6.1 6.1 0 1 0 12.2 0a6.1 6.1 0 1 0 -12.2 0zM1021.3 36.12a6.1 6.1 0 1 0 12.2 0a6.1 6.1 0 1 0 -12.2 0zM1022.3 39.07a6.1 6.1 0 1 0 12.2 0a6.1 6.1 0 1 0 -12.2 0zM1023.8 43.49a6.1 6.1 0 1 0 12.2 0a6.1 6.1 0 1 0 -12.2 0zM1029.4 50.85a6.1 6.1 0 1 0 12.2 0a6.1 6.1 0 1 0 -12.2 0zM1039.5 58.21a6.1 6.1 0 1 0 12.2 0a6.1 6.1 0 1 0 -12.2 0zM1047 65.57a6.1 6.1 0 1 0 12.2 0a6.1 6.1 0 1 0 -12.2 0zM1053.6 72.94a6.1 6.1 0 1 0 12.2 0a6.1 6.1 0 1 0 -12.2 0zM1062.4 80.3a6.1 6.1 0 1 0 12.2 0a6.1 6.1 0 1 0 -12.2 0zM1070.8 87.66a6.1 6.1 0 1 0 12.2 0a6.1 6.1 0 1 0 -12.2 0zM1079.6 95.03a6.1 6.1 0 1 0 12.2 0a6.1 6.1 0 1 0 -12.2 0zM1094.5 109.75a6.1 6.1 0 1 0 12.2 0a6.1 6.1 0 1 0 -12.2 0zM1111.4 124.47a6.1 6.1 0 1 0 12.2 0a6.1 6.1 0 1 0 -12.2 0zM1127.3 139.2a6.1 6.1 0 1 0 12.2 0a6.1 6.1 0 1 0 -12.2 0zM1139.9 153.93a6.1 6.1 0 1 0 12.2 0a6.1 6.1 0 1 0 -12.2 0zM1151.8 168.65a6.1 6.1 0 1 0 12.2 0a6.1 6.1 0 1 0 -12.2 0zM1174.7 205.46a6.1 6.1 0 1 0 12.2 0a6.1 6.1 0 1 0 -12.2 0zM1197.8 242.28a6.1 6.1 0 1 0 12.2 0a6.1 6.1 0 1 0 -12.2 0zM1231.4 315.9a6.1 6.1 0 1 0 12.2 0a6.1 6.1 0 1 0 -12.2 0zM1254.2 389.52a6.1 6.1 0 1 0 12.2 0a6.1 6.1 0 1 0 -12.2 0zM1272.4 463.15a6.1 6.1 0 1 0 12.2 0a6.1 6.1 0 1 0 -12.2 0zM1286.3 536.77a6.1 6.1 0 1 0 12.2 0a6.1 6.1 0 1 0 -12.2 0zM1300.8 610.4a6.1 6.1 0 1 0 12.2 0a6.1 6.1 0 1 0 -12.2 0z" fill="#008000"/>
<polyline points="1011.8,21.4 1012.48,24.34 1013.16,27.29 1013.84,30.23 1014.52,33.18 1015.2,36.12 1015.8,39.07 1016.7,43.49 1018.2,50.85 1020,58.21 1021.9,65.57 1027.8,72.94 1035.5,80.3 1046,87.66 1056.3,95.03 1078.5,109.75 1100.4,124.47 1120.1,139.2 1135.5,153.93 1148,168.65 1185.6,205.46 1201,242.28 1234.3,315.9 1257.3,389.52 1277.5,463.15 1295.6,536.77 1312.2,610.4" fill="none" stroke="#ff0000" stroke-width="3" stroke-linejoin="round" stroke-linecap="butt"/>
<path d="M1005.7 21.4a6.1 6.1 0 1 0 12.2 0a6.1 6.1 0 1 0 -12.2 0zM1006.38 24.34a6.1 6.1 0 1 0 12.2 0a6.1 6.1 0 1 0 -12.2 0zM1007.06 27.29a6.1 6.1 0 1 0 12.2 0a6.1 6.1 0 1 0 -12.2 0zM1007.74 30.23a6.1 6.1 0 1 0 12.2 0a6.1 6.1 0 1 0 -12.2 0zM1008.42 33.18a6.1 6.1 0 1 0 12.2 0a6.1 6.1 0 1 0 -12.2 0zM1009.1 36.12a6.1 6.1 0 1 0 12.2 0a6.1 6.1 0 1 0 -12.2 0zM1009.7 39.07a6.1 6.1 0 1 0 12.2 0a6.1 6.1 0 1 0 -12.2 0zM1010.6 43.49a6.1 6.1 0 1 0 12.2 0a6.1 6.1 0 1 0 -12.2 0zM1012.1 50.85a6.1 6.1 0 1 0 12.2 0a6.1 6.1 0 1 0 -12.2 0zM1013.9 58.21a6.1 6.1 0 1 0 12.2 0a6.1 6.1 0 1 0 -12.2 0zM1015.8 65.57a6.1 6.1 0 1 0 12.2 0a6.1 6.1 0 1 0 -12.2 0zM1021.7 72.94a6.1 6.1 0 1 0 12.2 0a6.1 6.1 0 1 0 -12.2 0zM1029.4 80.3a6.1 6.1 0 1 0 12.2 0a6.1 6.1 0 1 0 -12.2 0zM1039.9 87.66a6.1 6.1 0 1 0 12.2 0a6.1 6.1 0 1 0 -12.2 0zM1050.2 95.03a6.1 6.1 0 1 0 12.2 0a6.1 6.1 0 1 0 -12.2 0zM1072.4 109.75a6.1 6.1 0 1 0 12.2 0a6.1 6.1 0 1 0 -12.2 0zM1094.3 124.47a6.1 6.1 0 1 0 12.2 0a6.1 6.1 0 1 0 -12.2 0zM1114 139.2a6.1 6.1 0 1 0 12.2 0a6.1 6.1 0 1 0 -12.2 0zM1129.4 153.93a6.1 6.1 0 1 0 12.2 0a6.1 6.1 0 1 0 -12.2 0zM1141.9 168.65a6.1 6.1 0 1 0 12.2 0a6.1 6.1 0 1 0 -12.2 0zM1179.5 205.46a6.1 6.1 0 1 0 12.2 0a6.1 6.1 0 1 0 -12.2 0zM1194.9 242.28a6.1 6.1 0 1 0 12.2 0a6.1 6.1 0 1 0 -12.2 0zM1228.2 315.9a6.1 6.1 0 1 0 12.2 0a6.1 6.1 0 1 0 -12.2 0zM1251.2 389.52a6.1 6.1 0 1 0 12.2 0a6.1 6.1 0 1 0 -12.2 0zM1271.4 463.15a6.1 6.1 0 1 0 12.2 0a6.1 6.1 0 1 0 -12.2 0zM1289.5 536.77a6.1 6.1 0 1 0 12.2 0a6.1 6.1 0 1 0 -12.2 0zM1306.1 610.4a6.1 6.1 0 1 0 12.2 0a6.1 6.1 0 1 0 -12.2 0z" fill="#ff0000"/>
<polyline points="974.2,22.12 974.5,23.67 974.82,25.3 975.16,27.02 975.54,28.88 976.22,30.88 976.97,33.08 977.63,35.49 978.47,38.19 979.47,41.23 980.6,44.68 982,48.64 984.3,53.21 989.2,58.51 1005.3,64.69 1022.9,72.05 1043.2,80.74 1065.5,91.2 1091.2,103.57 1111.6,118.29 1129.9,136.11 1144.6,157.31 1161.3,182.93 1178,213.86 1199.4,250.96 1224.6,295.43 1248.5,349.03 1267.6,413.08 1285.5,489.8 1305,581.24" fill="none" stroke="#ff00ff" stroke-width="3" stroke-linejoin="round" stroke-linecap="butt"/>
<path d="M968.1 22.12a6.1 6.1 0 1 0 12.2 0a6.1 6.1 0 1 0 -12.2 0zM968.4 23.67a6.1 6.1 0 1 0 12.2 0a6.1 6.1 0 1 0 -12.2 0zM968.72 25.3a6.1 6.1 0 1 0 12.2 0a6.1 6.1 0 1 0 -12.2 0zM969.06 27.02a6.1 6.1 0 1 0 12.2 0a6.1 6.1 0 1 0 -12.2 0zM969.44 28.88a6.1 6.1 0 1 0 12.2 0a6.1 6.1 0 1 0 -12.2 0zM970.12 30.88a6.1 6.1 0 1 0 12.2 0a6.1 6.1 0 1 0 -12.2 0zM970.87 33.08a6.1 6.1 0 1 0 12.2 0a6.1 6.1 0 1 0 -12.2 0zM971.53 35.49a6.1 6.1 0 1 0 12.2 0a6.1 6.1 0 1 0 -12.2 0zM972.37 38.19a6.1 6.1 0 1 0 12.2 0a6.1 6.1 0 1 0 -12.2 0zM973.37 41.23a6.1 6.1 0 1 0 12.2 0a6.1 6.1 0 1 0 -12.2 0zM974.5 44.68a6.1 6.1 0 1 0 12.2 0a6.1 6.1 0 1 0 -12.2 0zM975.9 48.64a6.1 6.1 0 1 0 12.2 0a6.1 6.1 0 1 0 -12.2 0zM978.2 53.21a6.1 6.1 0 1 0 12.2 0a6.1 6.1 0 1 0 -12.2 0zM983.1 58.51a6.1 6.1 0 1 0 12.2 0a6.1 6.1 0 1 0 -12.2 0zM999.2 64.69a6.1 6.1 0 1 0 12.2 0a6.1 6.1 0 1 0 -12.2 0zM1016.8 72.05a6.1 6.1 0 1 0 12.2 0a6.1 6.1 0 1 0 -12.2 0zM1037.1 80.74a6.1 6.1 0 1 0 12.2 0a6.1 6.1 0 1 0 -12.2 0zM1059.4 91.2a6.1 6.1 0 1 0 12.2 0a6.1 6.1 0 1 0 -12.2 0zM1085.1 103.57a6.1 6.1 0 1 0 12.2 0a6.1 6.1 0 1 0 -12.2 0zM1105.5 118.29a6.1 6.1 0 1 0 12.2 0a6.1 6.1 0 1 0 -12.2 0zM1123.8 136.11a6.1 6.1 0 1 0 12.2 0a6.1 6.1 0 1 0 -12.2 0zM1138.5 157.31a6.1 6.1 0 1 0 12.2 0a6.1 6.1 0 1 0 -12.2 0zM1155.2 182.93a6.1 6.1 0 1 0 12.2 0a6.1 6.1 0 1 0 -12.2 0zM1171.9 213.86a6.1 6.1 0 1 0 12.2 0a6.1 6.1 0 1 0 -12.2 0zM1193.3 250.96a6.1 6.1 0 1 0 12.2 0a6.1 6.1 0 1 0 -12.2 0zM1218.5 295.43a6.1 6.1 0 1 0 12.2 0a6.1 6.1 0 1 0 -12.2 0zM1242.4 349.03a6.1 6.1 0 1 0 12.2 0a6.1 6.1 0 1 0 -12.2 0zM1261.5 413.08a6.1 6.1 0 1 0 12.2 0a6.1 6.1 0 1 0 -12.2 0zM1279.4 489.8a6.1 6.1 0 1 0 12.2 0a6.1 6.1 0 1 0 -12.2 0zM1298.9 581.24a6.1 6.1 0 1 0 12.2 0a6.1 6.1 0 1 0 -12.2 0z" fill="#ff00ff"/>
</g>
<path d="M994.5 610.5v6.3M1093.5 610.5v6.3M1192.5 610.5v6.3M1290.5 610.5v6.3M949.5 21.5h-6.3M949.5 95.5h-6.3M949.5 168.5h-6.3M949.5 242.5h-6.3M949.5 315.5h-6.3M949.5 389.5h-6.3M949.5 463.5h-6.3M949.5 536.5h-6.3M949.5 610.5h-6.3" fill="none" stroke="#000" stroke-width="1.16"/>
<rect x="949.5" y="21.5" width="388" height="589" fill="none" stroke="#000" stroke-width="1.16"/>
<g font-size="23.15" text-anchor="middle" fill="#000" letter-spacing="-1">
<text x="993.99" y="640.4" letter-spacing="-0.6">1022</text>
<text x="1092.69" y="640.4" letter-spacing="-0.6">1024</text>
<text x="1191.39" y="640.4" letter-spacing="-0.6">1026</text>
<text x="1290.09" y="640.4" letter-spacing="-0.6">1028</text>
</g>
</g>
<g font-size="24.2" font-weight="bold" text-anchor="middle" fill="#000">
<text x="175.5" y="673.9" text-anchor="start">Temperature (<tspan dx="-0.9" dy="-11.3" font-size="22">∘</tspan><tspan dx="-1.0" dy="11.3">C)</tspan></text>
<text x="717.3" y="671">Salinity (psu)</text>
<text x="1143" y="671">Density</text>
<text transform="translate(30 315.9) rotate(-90)">Depth (m)</text>
</g>
<text x="349.05" y="696.4" font-size="17.32" font-style="italic" fill="#000" xml:space="preserve">Ocean Heat Content (kJ/cm^2) - Argo: 94.4503,  RTOFS: 86.5846,  ESPC: 57.6034,  CMEMS: 83.7625, </text>
<g font-size="26.04" font-weight="bold" fill="#000">
<text x="1446.1" y="41.3">Argo #3901686</text>
<text x="1446.1" y="71.35">ARGO: 2025-09-11T19:17Z</text>
<text x="1446.1" y="101.4">ESPC : 2025-09-11T18:00Z</text>
<text x="1446.1" y="131.45">RTOFS: 2025-09-11T18:00Z</text>
<text x="1446.1" y="161.5">CMEMS: 2025-09-11T18:00Z</text>
</g>
<g>
<defs><clipPath id="cm"><rect x="1529.15" y="197.15" width="271.25" height="237"/></clipPath></defs>
<rect x="1529.15" y="197.15" width="271.25" height="237" fill="#97b6e1"/>
<rect x="1529.5" y="197.5" width="271" height="237" fill="none" stroke="#000" stroke-width="1.16"/>
<g clip-path="url(#cm)" stroke-linejoin="round" stroke-linecap="round">
<path d="M1524.15 327.08L1529.27 327.08L1533.49 327.59L1537.7 328.09L1541.07 329.78L1543.6 332.64L1545.29 335.51L1549.5 336.52L1554.56 336.86L1560.46 336.02L1565.52 336.35L1568.89 338.21L1572.27 339.89L1576.48 340.23L1579.85 338.21L1584.07 336.86L1589.13 336.02L1594.18 335.68L1596.21 337.53L1598.4 339.89L1601.77 341.41L1605.99 341.58L1608.85 342.26L1610.71 344.45L1612.05 347.31L1612.73 350.35L1615.26 353.38L1619.47 355.41L1623.69 357.43L1627.9 360.13L1631.28 362.99L1633.8 366.36L1636 369.74L1638.86 371.93L1643.08 374.29L1647.29 377.32L1653.19 379.01L1659.94 379.52L1666.68 379.35L1673.42 379.85L1680 380.19L1666.74 379.01L1673.49 379.52L1680.23 381.54L1686.98 384.91L1693.72 389.46L1699.62 393.34L1702.99 397.56L1705.18 404.3L1706.87 411.04L1709.74 414.75L1713.61 417.79L1714.79 422L1713.11 427.06L1716.48 430.43L1720.7 433.3L1722.72 434.65L1722.72 439.15L1524.15 439.15Z" fill="#d2b48c" stroke="#000" stroke-width="2.8"/>
<path d="M1605.14 335.17L1612.39 334.5L1612.73 340.23L1608.51 340.91L1606.83 338.88L1604.3 338.21Z" fill="#d2b48c" stroke="#000" stroke-width="2.5"/>
<path d="M1528.77 251.6L1532.64 252.44L1536.86 253.11L1537.87 255.81L1542.76 258.34L1544.62 260.87L1541.58 263.9L1538.88 262.22L1535.17 261.21L1528.77 261.21Z" fill="#d2b48c" stroke="#000" stroke-width="2.5"/>
<path d="M1554.73 261.88L1562.15 260.87L1570.58 261.21L1575.97 261.71L1574.29 263.9L1569.23 266.6L1560.46 267.11L1554.9 265.93Z" fill="#d2b48c" stroke="#000" stroke-width="2.5"/>
<path d="M1528.77 251.09L1533.49 251.77L1536.86 252.44L1537.53 255.14L1533.83 254.8L1530.12 254.13L1528.77 253.79Z" fill="#000"/>
<path d="M1707.54 412.39L1710.58 414.08L1714.29 417.79L1714.96 422.51L1713.28 427.23L1716.99 430.43L1721.03 433.3L1722.72 434.98L1703.5 434.98L1708.89 428.75L1711.42 422.85L1710.24 416.94Z" fill="#000" stroke="#000" stroke-width="1.5"/>
<path d="M1611.04 352.03L1602.61 353.21L1592.5 357.93L1584.07 360.46L1577.32 362.15L1568.89 361.31L1562.15 364.68L1556.25 369.74L1554.56 375.64L1551.19 379.01L1549.5 387.44L1551.19 396.71L1558.78 399.24L1565.52 405.99L1570.58 406.83L1575.64 411.04L1582.38 412.73L1588.28 412.39M1602.61 353.21L1600.59 348.66L1599.24 345.29M1602.61 353.21L1604.3 347.82L1605.14 345.29M1586.6 406.83L1587.44 400.93L1592.5 402.61L1599.24 404.3L1607.67 402.61L1614.42 402.28L1616.1 405.99L1612.73 414.42L1609.36 422.85L1605.99 429.59L1604.3 434.65M1529.27 379.35L1536.86 377.32M1529.27 414.42L1536.86 412.73L1545.29 410.2L1551.19 405.99M1553.72 434.65L1554.56 427.9L1557.93 424.53" fill="none" stroke="#97b6e1" stroke-width="1.7"/>
<path d="M1665.33 390.81L1668.03 388.28L1669.21 389.97L1666.68 392.83Z" fill="#b5b5b5" stroke="none"/>
<path d="M1621.16 358.44L1617.45 362.49L1614.75 367.71L1616.1 370.58L1612.39 373.95L1609.69 378.17L1612.73 383.22L1616.94 387.1L1614.42 390.81L1607.67 393.51L1600.93 396.21L1592.5 398.57L1584.4 397.72L1577.32 395.03M1577.32 395.03L1581.54 400.93L1584.07 407.67L1584.91 412.73L1582.38 419.47L1577.32 423.69L1570.58 426.55L1562.99 426.22L1557.93 423.18M1616.94 387.1L1621.16 391.15L1622.85 399.24L1622 407.67L1623.69 416.1L1627.9 421.16L1634.65 422L1641.39 418.63L1648.13 416.1L1654.88 413.57L1663.31 411.04L1670.05 411.89L1676.8 413.07L1680 413.23M1646.11 378.17L1643.92 384.07L1641.39 390.81L1640.55 396.71L1643.08 402.61L1646.45 407.67L1649.82 413.57L1651.51 416.1M1675.11 382.72L1672.58 389.13L1673.42 395.87L1675.95 402.61L1675.11 409.36L1670.9 411.89M1660 411.89L1668.43 411.89L1676.86 412.73L1685.29 413.07L1690.35 411.04L1695.41 402.61L1699.62 395.03M1676.02 384.91L1673.15 390.81L1676.02 400.93L1672.64 411.04M1529.27 373.95L1535.17 376.48L1541.92 376.99L1551.19 376.48L1552.03 379.01L1549.5 385.75L1548.66 390.81L1550.35 399.24L1551.19 405.99L1549.5 409.36L1553.72 411.89L1556.25 417.79L1557.09 422.85M1529.27 417.79L1536.86 417.45L1545.29 416.94L1552.03 414.42M1530.12 425.37L1536.86 427.9" fill="none" stroke="#000" stroke-width="1.6" stroke-dasharray="5.4 2.4" stroke-linecap="butt"/>
<path d="M1588.28 411.89L1594.18 414.42L1597.56 419.47L1598.4 427.9L1598.4 434.65M1631.28 421.16L1631.28 434.65M1620.32 434.65L1620.65 432.12L1631.28 432.12M1669.27 414.42L1676.86 417.79L1683.6 424.53L1686.13 434.65" fill="none" stroke="#000" stroke-width="1.4"/>
<path d="M1547.14 265.08a1.18 1.01 0 1 0 2.36 0a1.18 1.01 0 1 0 -2.36 0zM1575.81 262.56a2.36 1.18 0 1 0 4.72 0a2.36 1.18 0 1 0 -4.72 0zM1580.19 259.18a1.35 1.18 0 1 0 2.7 0a1.35 1.18 0 1 0 -2.7 0zM1575.13 268.46a2.19 1.18 0 1 0 4.38 0a2.19 1.18 0 1 0 -4.38 0zM1590.81 263.57a1.69 1.69 0 1 0 3.37 0a1.69 1.69 0 1 0 -3.37 0zM1593.17 266.26a1.35 1.35 0 1 0 2.7 0a1.35 1.35 0 1 0 -2.7 0zM1602.61 269.3a1.69 2.02 0 1 0 3.37 0a1.69 2.02 0 1 0 -3.37 0zM1602.95 274.69a1.85 2.02 0 1 0 3.71 0a1.85 2.02 0 1 0 -3.71 0zM1603.46 283.63a3.37 3.37 0 1 0 6.74 0a3.37 3.37 0 1 0 -6.74 0zM1606.66 285.82a2.36 2.36 0 1 0 4.72 0a2.36 2.36 0 1 0 -4.72 0zM1604.3 283.6a3.37 3.71 0 1 0 6.74 0a3.37 3.71 0 1 0 -6.74 0zM1606.66 290.68a2.19 2.87 0 1 0 4.38 0a2.19 2.87 0 1 0 -4.38 0zM1609.19 298.44a2.7 3.37 0 1 0 5.4 0a2.7 3.37 0 1 0 -5.4 0zM1610.54 305.18a1.85 2.7 0 1 0 3.71 0a1.85 2.7 0 1 0 -3.71 0zM1608.85 311.42a1.52 2.53 0 1 0 3.03 0a1.52 2.53 0 1 0 -3.03 0zM1607 315.97a1.35 2.02 0 1 0 2.7 0a1.35 2.02 0 1 0 -2.7 0zM1605.14 320.36a1.52 2.02 0 1 0 3.03 0a1.52 2.02 0 1 0 -3.03 0zM1603.96 322.72a1.18 1.35 0 1 0 2.36 0a1.18 1.35 0 1 0 -2.36 0zM1623.35 311.93a2.02 2.19 0 1 0 4.05 0a2.02 2.19 0 1 0 -4.05 0zM1612.9 329.46a2.36 1.69 0 1 0 4.72 0a2.36 1.69 0 1 0 -4.72 0zM1535.68 320.36a2.02 1.69 0 1 0 4.05 0a2.02 1.69 0 1 0 -4.05 0zM1538.55 322.04a1.35 1.18 0 1 0 2.7 0a1.35 1.18 0 1 0 -2.7 0zM1542.59 321.03a1.85 1.69 0 1 0 3.71 0a1.85 1.69 0 1 0 -3.71 0zM1549.67 323.22a1.52 1.01 0 1 0 3.03 0a1.52 1.01 0 1 0 -3.03 0zM1556.75 324.4a2.36 1.69 0 1 0 4.72 0a2.36 1.69 0 1 0 -4.72 0zM1562.82 324.57a1.35 1.18 0 1 0 2.7 0a1.35 1.18 0 1 0 -2.7 0zM1577.15 324.4a1.85 1.35 0 1 0 3.71 0a1.85 1.35 0 1 0 -3.71 0zM1570.24 332.83a2.02 1.52 0 1 0 4.05 0a2.02 1.52 0 1 0 -4.05 0zM1580.02 332.5a3.71 2.19 0 1 0 7.42 0a3.71 2.19 0 1 0 -7.42 0zM1583.22 330.47a1.69 1.35 0 1 0 3.37 0a1.69 1.35 0 1 0 -3.37 0zM1590.98 328.79a1.52 1.18 0 1 0 3.03 0a1.52 1.18 0 1 0 -3.03 0z" fill="#000" stroke="#000" stroke-width="0.7"/>
<path d="M1590.81 269.3L1595.03 272.33L1598.4 275.2L1601.26 278.07" fill="none" stroke="#000" stroke-width="1.5" stroke-dasharray="2.2 1.5"/>
<circle cx="1607.3" cy="238.2" r="5.9" fill="#0000ff"/>
</g>
<path d="M1538.5 434.15v9.4M1538.5 197.15v-8.9M1566.5 434.15v9.4M1566.5 197.15v-8.9M1594.5 434.15v9.4M1594.5 197.15v-8.9M1621.5 434.15v9.4M1621.5 197.15v-8.9M1649.5 434.15v9.4M1649.5 197.15v-8.9M1677.5 434.15v9.4M1677.5 197.15v-8.9M1705.5 434.15v9.4M1705.5 197.15v-8.9M1733.5 434.15v9.4M1733.5 197.15v-8.9M1760.5 434.15v9.4M1760.5 197.15v-8.9M1788.5 434.15v9.4M1788.5 197.15v-8.9M1529.15 434.5h-8.8M1800.4 434.5h9M1529.15 407.5h-8.8M1800.4 407.5h9M1529.15 379.5h-8.8M1800.4 379.5h9M1529.15 351.5h-8.8M1800.4 351.5h9M1529.15 323.5h-8.8M1800.4 323.5h9M1529.15 295.5h-8.8M1800.4 295.5h9M1529.15 266.5h-8.8M1800.4 266.5h9M1529.15 237.5h-8.8M1800.4 237.5h9M1529.15 207.5h-8.8M1800.4 207.5h9" stroke="#000" stroke-width="3" fill="none"/>
<path d="M1529 434.15v2.9M1529 197.15v-2.9M1547 434.15v2.9M1547 197.15v-2.9M1556 434.15v2.9M1556 197.15v-2.9M1575 434.15v2.9M1575 197.15v-2.9M1584 434.15v2.9M1584 197.15v-2.9M1603 434.15v2.9M1603 197.15v-2.9M1612 434.15v2.9M1612 197.15v-2.9M1631 434.15v2.9M1631 197.15v-2.9M1640 434.15v2.9M1640 197.15v-2.9M1658 434.15v2.9M1658 197.15v-2.9M1668 434.15v2.9M1668 197.15v-2.9M1686 434.15v2.9M1686 197.15v-2.9M1695 434.15v2.9M1695 197.15v-2.9M1714 434.15v2.9M1714 197.15v-2.9M1723 434.15v2.9M1723 197.15v-2.9M1742 434.15v2.9M1742 197.15v-2.9M1751 434.15v2.9M1751 197.15v-2.9M1770 434.15v2.9M1770 197.15v-2.9M1779 434.15v2.9M1779 197.15v-2.9M1797 434.15v2.9M1797 197.15v-2.9M1529.15 425h-2.9M1800.4 425h2.9M1529.15 416h-2.9M1800.4 416h2.9M1529.15 397h-2.9M1800.4 397h2.9M1529.15 388h-2.9M1800.4 388h2.9M1529.15 370h-2.9M1800.4 370h2.9M1529.15 360h-2.9M1800.4 360h2.9M1529.15 342h-2.9M1800.4 342h2.9M1529.15 332h-2.9M1800.4 332h2.9M1529.15 314h-2.9M1800.4 314h2.9M1529.15 304h-2.9M1800.4 304h2.9M1529.15 285h-2.9M1800.4 285h2.9M1529.15 276h-2.9M1800.4 276h2.9M1529.15 256h-2.9M1800.4 256h2.9M1529.15 247h-2.9M1800.4 247h2.9M1529.15 227h-2.9M1800.4 227h2.9M1529.15 217h-2.9M1800.4 217h2.9M1529.15 197h-2.9M1800.4 197h2.9" stroke="#000" stroke-width="2" fill="none"/>
<g font-size="13.9" fill="#000" text-anchor="end">
<text x="1513.6" y="439.7">0°N</text>
<text x="1513.6" y="412.13">3°N</text>
<text x="1513.6" y="384.48">6°N</text>
<text x="1513.6" y="356.68">9°N</text>
<text x="1513.6" y="328.65">12°N</text>
<text x="1513.6" y="300.3">15°N</text>
<text x="1513.6" y="271.56">18°N</text>
<text x="1513.6" y="242.32">21°N</text>
<text x="1513.6" y="212.48">24°N</text>
</g>
<g font-size="13.9" fill="#000" text-anchor="middle">
<text x="1538.42" y="460">69°W</text>
<text x="1566.22" y="460">66°W</text>
<text x="1594.03" y="460">63°W</text>
<text x="1621.83" y="460">60°W</text>
<text x="1649.63" y="460">57°W</text>
<text x="1677.44" y="460">54°W</text>
<text x="1705.24" y="460">51°W</text>
<text x="1733.05" y="460">48°W</text>
<text x="1760.85" y="460">45°W</text>
<text x="1788.65" y="460">42°W</text>
</g>
</g>
<rect x="1499.1" y="485.7" width="330.9" height="128.2" rx="4.4" ry="4.4" fill="#ffffff" stroke="#d6d6d6" stroke-width="1.6"/>
<g font-size="20.83" fill="#000">
<path d="M1506 503.5H1551" stroke="#0000ff" stroke-width="3" fill="none"/>
<circle cx="1528.5" cy="503.5" r="6.1" fill="#0000ff"/>
<text x="1565.8" y="510.6">3901686 [-61.54, 20.91]</text>
<path d="M1506 534.2H1551" stroke="#008000" stroke-width="3" fill="none"/>
<circle cx="1528.5" cy="534.2" r="6.1" fill="#008000"/>
<text x="1565.8" y="541.3">ESPC [-61.52, 20.92]</text>
<path d="M1506 564.8H1551" stroke="#ff0000" stroke-width="3" fill="none"/>
<circle cx="1528.5" cy="564.8" r="6.1" fill="#ff0000"/>
<text x="1565.8" y="571.9">RTOFS [-61.52, 20.88]</text>
<path d="M1506 595.3H1551" stroke="#ff00ff" stroke-width="3" fill="none"/>
<circle cx="1528.5" cy="595.3" r="6.1" fill="#ff00ff"/>
<text x="1565.8" y="602.4">CMEMS [-61.58, 20.92]</text>
</g>
</svg>
</body>
</html>
